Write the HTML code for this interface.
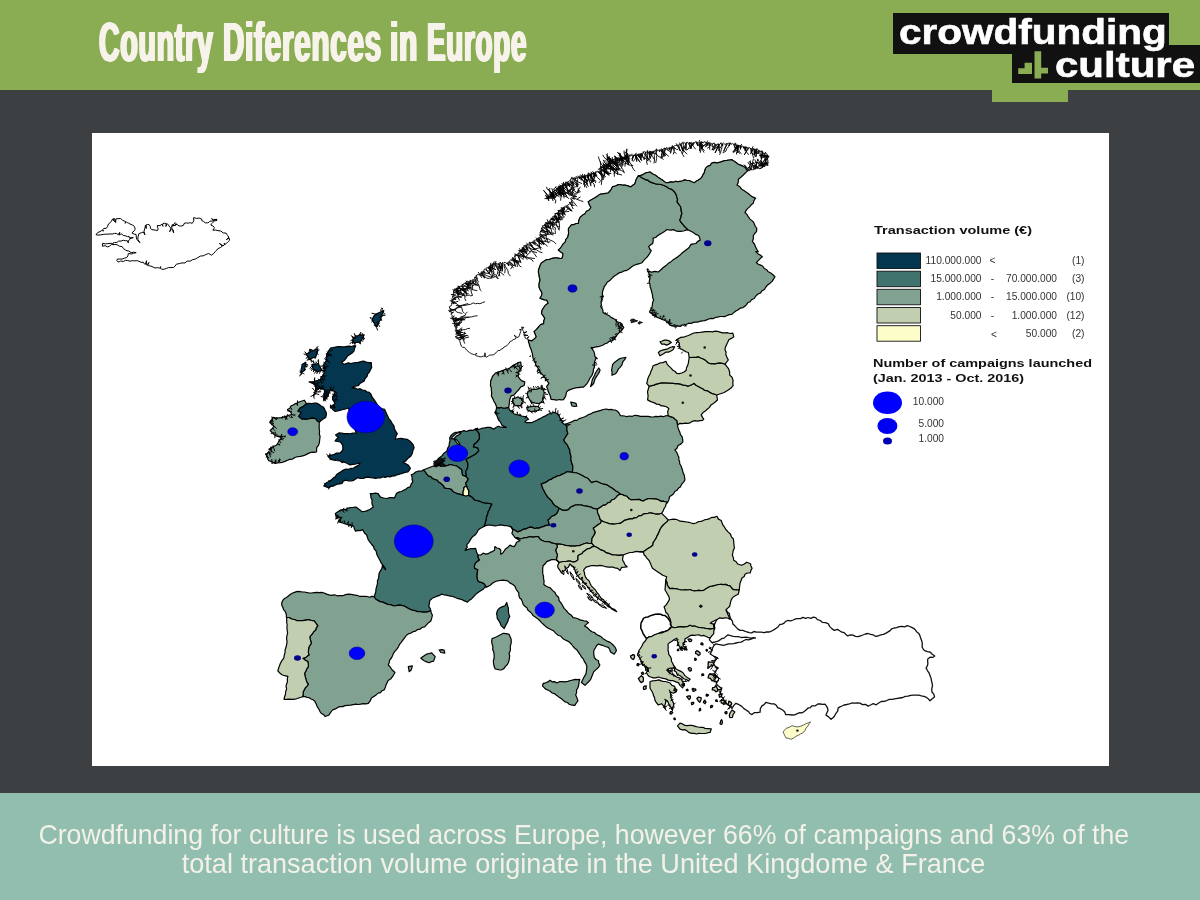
<!DOCTYPE html>
<html lang="en">
<head>
<meta charset="utf-8">
<title>Country Diferences in Europe</title>
<style>
html,body{margin:0;padding:0;}
body{width:1200px;height:900px;position:relative;overflow:hidden;background:#3c4043;font-family:"Liberation Sans",sans-serif;}
#hdr{position:absolute;left:0;top:0;width:1200px;height:90px;background:#8aad54;}
#title{position:absolute;left:0;top:-3px;height:90px;line-height:90px;white-space:nowrap;color:#f7f3ea;font-weight:bold;font-size:55px;}
.tw{position:absolute;top:0;letter-spacing:1.5px;transform-origin:0 50%;text-shadow:1px 0 0 #f7f3ea,-1px 0 0 #f7f3ea,2px 0 0 #f7f3ea,-2px 0 0 #f7f3ea;}
#ftr{position:absolute;left:0;top:793px;width:1200px;height:107px;background:#92beaf;}
.fl{position:absolute;left:0;width:1200px;text-align:center;color:#f3f1e8;font-size:28px;line-height:30px;white-space:nowrap;}
.fl span{display:inline-block;transform-origin:50% 50%;}
#mapbox{position:absolute;left:91.5px;top:133px;width:1017.5px;height:633px;background:#fff;}
#logo1{position:absolute;left:893px;top:13px;width:276px;height:41px;background:#111;}
#logo2{position:absolute;left:1012px;top:45px;width:188px;height:38px;background:#111;}
#tab{position:absolute;left:992px;top:88px;width:76px;height:14px;background:#8aad54;}
.lg{position:absolute;-webkit-text-stroke:0.6px #fff;color:#fff;font-weight:bold;white-space:nowrap;font-size:35px;line-height:40px;transform-origin:0 50%;}
</style>
</head>
<body>
<div id="hdr"></div>
<div id="title"><span class="tw" style="left:98.7px;transform:scaleX(0.518)">Country</span> <span class="tw" style="left:222.7px;transform:scaleX(0.5365)">Diferences</span> <span class="tw" style="left:389.5px;transform:scaleX(0.54)">in</span> <span class="tw" style="left:426.5px;transform:scaleX(0.505)">Europe</span></div>
<div id="tab"></div>
<div id="logo1"></div>
<div id="logo2"></div>
<div class="lg" id="lt1" style="left:898.5px;top:12px;transform:scaleX(1.157);">crowdfunding</div>
<div class="lg" id="lt2" style="left:1055px;top:45px;transform:scaleX(1.2);">culture</div>
<svg id="icon" width="40" height="34" viewBox="1014 48 40 34" style="position:absolute;left:1014px;top:48px;"><path d="M1034.5,51.2h6.7v16.6h6.8v5.7h-6.8v5h-6.7zM1018.2,68.3h6.4v-5.5h7.4v11.2h-13.8z" fill="#8aad54"/></svg>
<div id="mapbox"></div>
<svg id="map" width="1200" height="900" viewBox="0 0 1200 900" style="position:absolute;left:0;top:0;">
<path id="tr" d="M726,610 727.5,611.9 729.4,613.6 729.7,616.1 730.8,618.8 732.4,621.2 732.9,624.1 734.7,625.6 736.3,627.4 737.9,629.1 740.1,630.4 742.9,630.4 745.2,631.3 747.2,632 749.4,632.6 751.7,632.9 753.9,631.5 756.5,632.1 759,632.1 761.5,632.2 764,632.7 766.7,632 769.4,632 772,630.8 774.1,629.6 776.2,628.2 778.2,626.7 779.7,624.5 782.1,624.2 784.1,623.2 785.6,621.4 787.8,620.5 790.6,620.9 793.2,620 795.6,618.8 798,618.6 800.5,618.7 803,617.4 805.5,618.3 808,617.5 810.7,618.4 813.4,617.2 815.7,617.6 817.4,619.6 820.3,620.5 822.5,622.4 825.4,622.7 828.2,623.7 829.8,626.6 832.1,628.9 834.4,630.4 837.5,629.4 840,631 841.9,632.2 844.2,632.6 845.7,634.2 847.7,635.9 850.5,634.9 853.1,635.2 855.4,636.4 858.1,636.7 860.5,635.8 862.9,635 865.4,634 868,633.5 870.6,634.3 873.1,634.8 875.4,636.3 878,636 880.6,634.9 883.5,634.4 886.1,633.1 888.1,631.9 890.1,630.6 891.7,628.8 894.1,628 896.7,627.6 899.2,626.6 902,626.3 904.7,626.8 907.3,625.6 909.8,626.5 911.6,627.3 913.6,628.3 915.2,629.8 916.8,631.9 918.9,633.6 920,635.9 920.8,638.6 921.8,641.1 922.3,643.9 922.1,647 923.6,649.7 925.3,650.9 927.6,651.7 930,652 932.3,654.3 934.7,656 932.8,657.4 930.1,657.2 927.8,658.9 927.6,661.3 927.9,663.5 927.4,665.8 926.1,668.1 927.6,670.8 929.2,673.2 930.2,675.9 931.1,678.4 931.5,681 932.2,683.5 932.5,686 931.7,688.9 932,692 933.9,694.3 934.5,696.9 932.6,698.6 930,700.8 928,698.6 926.1,697.2 923.9,696.4 921.3,695.9 918.7,695.2 916,695.2 913.4,695.2 910.6,695.3 908,696.2 905.3,696.4 902.8,697.5 899.9,698 897.4,698.4 894.7,698.8 892.1,699.4 889.3,699.3 886.8,700.5 884,701.3 881.2,701.5 878.7,703 876.2,704.8 873.2,703.7 870.6,705 868,706.1 865.5,704.3 862.5,704.6 860,703.1 857.3,702.8 854.7,703.1 852,703 849.4,703.9 846.8,704.5 844,705 842,706 839.9,706.9 838.1,708.1 837.7,711.2 835.6,713.8 834.6,716 832.9,717.7 831,719.3 828.6,716.9 825.9,715 826.9,712.8 828,710.5 827.6,708.1 826.5,706.1 825,704.1 822.7,704.4 820.3,704 817.9,703.9 815.3,705.8 811.9,705.8 810.3,707.6 807.8,708.2 806.1,710 804.2,711.4 802.3,712.8 799.8,712.7 797.3,713.7 794.7,714.8 792,715 789,714.6 785.7,714.5 784.6,711.7 782.6,710 780.3,708.7 777.7,707.7 776.3,705.3 774.1,703.9 771.4,703.8 768.7,703.2 765.8,702.3 764.1,704.6 761.9,705.9 760.3,708.7 760.1,712.1 757.3,712.6 754.5,712.6 752,714.6 749.8,713.5 748.4,711.3 746.5,710.3 743.9,708.6 741.8,706.4 739.1,704.7 735.9,703.3 733.6,705.6 732,708.5 730.1,705.9 727.5,704.6 725.4,702.6 724,700.4 723,697.9 721,696.4 719.9,694 720.9,691 721.8,688.1 719.7,687.1 717.9,685.5 716.3,683.9 717,682 718.5,680.3 718.6,678.1 716.4,676 713.6,674.1 715.5,672.1 716.5,669.9 718.2,667.9 716,666.8 714.1,665.2 712.3,664 714.2,662.4 715.5,660.2 717.5,657.9 714.7,656.7 712.3,655.3 710.2,653.9 711.7,651.2 712.5,648.3 713.7,645.8 715.9,643.8 718.4,644.4 721,644.8 723.5,645.3 726,644.7 728.3,643.8 730.9,643.8 733.6,643.6 736,643 738.6,642.3 741.3,642.1 743.5,640.8 745.9,639.5 748.6,639.9 751,639.1 753.4,638.2 755.4,638 753.5,637.6 751,638.1 748.5,637.7 746,637.1 743.5,637.3 741.1,637.5 738.5,636.7 736,636.7 733.3,636.3 730.6,635.6 728,634.8 725.9,636.4 724.1,638.1 721.8,638.5 720,639.9 718,641.1 715,642 712.1,642.7 709.4,639.9 710.1,637.4 711.9,634.9 712.6,632.7 713.1,630.2 714.2,628.1 714.4,625 715.5,622.2 716.6,620 718.2,617.9 719.8,615.8 721.7,613.7 723.8,611.8 726,610Z" fill="#ffffff" stroke="#111" stroke-width="1.3" stroke-linejoin="round"/>
<path id="no" d="M528.3,340 531.7,340.9 534.1,339.1 536.2,336.8 535.2,334.1 534,331.6 536.5,329.4 538.5,327 540.5,324.6 543.7,323.6 543.8,320.7 544.8,318.3 543.2,315.9 541.5,313.3 542,310.3 543.6,307.7 545.5,305 548.1,303.3 546.7,300 544.3,299.9 542.2,299.1 539.9,298.3 541.3,296 542,293.3 541,291.1 539.8,289 539,286.7 539,284.4 539.4,282.2 540,280 539.2,276.7 539,274.5 538.4,272.3 538.5,270 539.3,267.7 540.1,265.3 541.3,263 543.9,261.3 546.5,259.6 549.5,259.4 552.1,258.3 555,257.9 557.2,257.9 559.5,258.4 561.8,258.5 562.7,255.9 562.9,253.5 560.6,251.9 558.2,250 560.1,248.4 561.5,246.5 563,244 565.3,241.9 565.8,239.3 567.6,237.4 568.3,235 568.6,232.8 568.4,230.5 568.5,228.4 570,226.7 571.5,224.7 573.9,224.6 576,223.5 578.4,223.3 578.8,220.2 580.1,217.3 582.6,215.1 584.9,213.7 586.4,211.3 589.1,210 590.9,207.5 589.4,204.7 588.2,201.7 590.8,200.1 593.5,198.6 595.7,197.2 597.9,195.8 600,194.1 602.8,193.9 605.5,193.4 608.1,193 610.8,190 612.5,186.7 615.4,186 618.2,184.6 620.5,184.5 622.8,185.2 625,185 627.9,185.9 630.8,186.9 632.7,185.2 634.7,184 635.5,181.7 636.2,179.4 638.3,175.8 640.7,175.4 643,174.6 645,173.2 647.4,172.5 650.1,172 652.8,174 655.6,175.3 658.1,177.3 660.9,179.1 663.4,180.7 665.8,182.6 668.3,182.6 670.8,181.9 673.4,182.2 675.5,181.3 677.8,181.6 680.1,181.3 682.3,181 684.4,179.9 686.7,180.4 689.3,180.5 691.7,181.8 694.2,182.7 696.1,181.3 698,180.2 699.9,179.1 701.8,177.2 702.9,174.8 704.2,172.8 704.8,170.5 705.6,168.1 707.5,166.4 710.1,165.4 711.6,163.2 714.4,162.4 717.3,162.8 720.1,162.2 722.3,161.4 724.5,160.6 726.8,160.4 729.3,160 731.6,159.6 733.8,161 736.1,162.5 738.3,164.2 740.6,165.1 742.9,166.1 745.1,167.4 747.5,170.8 748.5,170.6 744.3,164.8 749.5,170.4 750,170.3 750,167.8 751,170.1 751.5,169.9 750.3,167.7 752.5,169.7 753.5,169.7 754.5,169.3 756.8,162.2 755.5,169.1 756,168.9 749.4,161.6 756.9,168.6 757.4,168.5 755.7,165.8 758.4,168.2 759.5,168.4 761,168.2 761.7,167.2 757.2,162.6 762.6,166.8 763,166.7 760.6,160.4 763.9,166.3 765,166.4 765.7,165.7 765.2,157.8 766.6,165.3 768,165.4 767.6,163.7 767.7,162.9 758.5,165.6 767.8,161.9 768,161.1 767.9,160.2 765.7,159.1 768,159.2 767.4,158.4 768.1,157.6 761.4,155.7 768.2,156.6 768.5,156.2 759.4,155.6 768.1,155.4 767.2,155.1 766.6,153.5 764.8,154.1 764.3,153.3 760.6,156.6 763.4,152.8 763.2,152.7 762.3,155.9 762.3,152.2 762.2,150.8 760.9,151.3 756.3,154 760.1,150.8 759.8,150.6 754.1,154 759,150.1 758,150.4 757.4,149.5 753.9,153.3 756.4,149.3 756.1,149.2 755.9,152.5 755.1,149 754.7,148.9 754.6,155.1 753.7,148.7 753.3,148.6 751.5,152.9 752.4,148.4 751.2,149.2 750.1,147.9 749.2,147.6 744.2,155 748.3,147.4 747.2,148.1 746.5,147 745,149.5 745.5,146.8 745.2,146.7 745.3,150.3 744.2,146.5 743.8,146.4 743.7,148.4 742.8,146.2 742.5,146.1 740.5,147.8 741.5,145.8 741.1,145.8 740.4,149.5 740.2,145.5 739.8,145.4 732.8,151.9 738.8,145.2 738.5,145.1 738.6,147.8 737.5,144.9 737.1,144.8 737.8,153 736.2,144.5 735.6,143.2 734.5,144.1 735.8,150.4 733.5,143.9 732.6,143.7 731.1,144.2 730.5,143 728.7,146.1 729.5,143 728.7,143.2 727.8,143.2 723.6,151.3 726.8,143.3 726.1,144.2 724.7,144.2 723.3,142.9 722.5,143.7 722.8,145.9 721.5,143.8 720.6,143.3 719.9,143.9 715.1,152.9 718.9,144 718.5,144 719.5,147.5 717.5,144.1 717.2,144.2 713.4,150.4 716.2,144.2 715.9,144.1 712,150.1 714.9,143.9 714.2,142.8 712.5,144.5 711.8,143.4 709.7,146.3 710.8,143.2 710.1,142.7 709.2,143 705.3,147.2 708.2,142.8 707.8,142.7 708,145.7 706.8,142.6 705.8,143.4 704.8,141.4 703.2,143.2 701.9,141.7 701.1,142.1 699.6,151.1 700.1,142.2 699.3,142.3 698,142.2 697.1,142.4 697.8,146.1 696.1,142.5 695.3,141.9 694.5,142.6 692.7,145.6 693.5,142.6 693.1,142.7 690.1,149 692.1,142.7 691.3,142.6 690,142.9 689.1,142.9 690.9,147.9 688.1,143 687.2,141.9 686.5,143.1 685.9,150.2 685.5,143.2 684.6,142.8 683.3,143.4 681.8,142.8 681.2,143.9 682.8,151.2 680.3,144.2 679.5,144.6 678.7,144.7 680,150.9 677.7,145 676.9,145.3 675.6,145.5 674.3,145.9 673.2,146.8 672.3,146.6 670.5,153.3 671.3,146.9 671,147 671.5,149.8 670.1,147.3 669.7,147.4 669.5,150.1 668.8,147.7 668.2,148.6 666.5,147.5 665.9,148.5 662.6,157.5 664.9,148.7 664,148.2 663.3,149 661.1,158.5 662.4,149.2 662.1,149.2 663.7,154.6 661.1,149.4 660.8,149.5 665.7,155.7 659.8,149.7 659.5,149.8 659.8,151.9 658.5,150 657.8,150.4 656.2,149.4 655.3,151.3 654.3,150.8 653.6,153.3 653.4,151 653.1,151.1 651.2,156.5 652.1,151.3 651.8,151.3 650.4,154.7 650.8,151.5 650,151.9 649.2,151.9 650.6,158.5 648.2,152.1 647.2,151.2 646.2,152.8 644.7,151.7 643.4,151.9 642.8,153.1 640.5,159.6 641.8,153.3 641.5,153.4 643.9,158.7 640.5,153.6 640.2,153.6 641,155.9 639.2,153.8 638.9,153.9 641.7,160.8 637.9,154.1 637.6,154.1 640.5,158.1 636.7,154.3 636.4,154.4 636.8,161.6 635.4,154.6 635.1,154.6 640.2,162.3 634.1,154.8 633.8,154.9 632.2,160.8 632.8,155.1 632,155 630.8,155.9 629.4,155.4 628.3,156.5 627.4,156.2 628.4,158.4 626.4,156.4 625.4,155.5 624.9,156.7 623.8,159.5 623.9,156.9 623.3,157.9 622.3,157.2 622.8,161.2 621.3,157.4 621,157.4 619.2,161.7 620,157.6 619.5,158.9 617.9,157.4 617.2,158.1 617.7,160.1 616.2,158.5 615.5,159 613.9,159.1 613.6,160.2 614.7,162.5 612.7,160.7 612.4,160.9 615.2,164 611.5,161.4 610.8,162 609.9,163.1 608.6,163.7 607.6,163.8 614.9,169.7 606.7,164.3 606.2,165.2 604.2,164.5 604.1,167 602.7,167.4 600.7,166.8 600,168.3 601,167.1 602.4,167.1 603.5,166.4 604.5,166.5 603.4,163.8 605.4,166.1 606.5,166.7 607.3,165.1 608.5,164.5 609.4,164.5 609.1,156.4 610.3,164.1 611.1,163.8 611.8,163.4 607.6,157.4 612.8,163.1 613.1,162.9 608.5,157.1 614,162.6 614.5,161.7 615.5,161.9 615.1,156.3 616.5,161.6 617,160.6 618,160.9 616.5,158.3 618.9,160.5 619.2,160.4 614.2,156 620.1,160 620.5,159.9 619.8,152.9 621.4,159.5 621.7,159.4 619.8,154.1 622.6,159 622.9,158.9 617.5,152.2 623.8,158.5 624.2,157.2 625.4,157.9 626.9,148.9 626.3,157.5 626.6,157.4 627.5,153.3 627.5,157 627.7,156.4 626.7,156.5 626.3,157.6 628.8,164.9 625.3,158 624.9,159.2 623,158.3 622.5,159.2 622.9,161.3 621.6,159.7 621.3,159.8 622.5,162.5 620.3,160.2 619.4,160.1 617.8,160 617.5,161.4 618.5,170.3 616.6,161.9 616.3,162 618.2,166.2 615.3,162.4 615,163.8 613.7,163.1 617,165.9 612.9,163.5 611.7,163.1 610.7,164.1 610.3,165 614.4,169.1 609.4,165.5 608.5,165.6 608,167.3 606.5,167.5 605.7,168.7 604.5,168.2 607.9,174.5 603.6,168.7 603.2,169.6 602.2,169.5 609.2,175.3 601.3,170 601,170.2 601.6,174.5 600.2,170.7 599.9,170.8 604,176 599,171.3 598.8,171.5 600.7,174.1 597.8,171.9 596.8,171.4 596.2,172.3 593.2,181.8 595.2,172.6 594.9,172.7 596.9,175.6 594,172.9 593.6,173 595.2,176.4 592.7,173.3 591.9,173.7 591,173.8 591.8,178.6 590.1,174 589.8,174.1 590.6,176.4 588.8,174.4 588.5,174.5 588.7,180.2 587.5,174.8 587.2,174.9 588.8,178.5 586.2,175.1 585.8,175.2 583.9,184.6 584.9,175.4 584.5,175.5 584,178 583.5,175.8 583.2,175.9 587.7,181 582.2,176.1 581.3,176.1 580.2,177.4 579.1,176.9 580.4,179.4 578.2,177.1 577.3,177.4 576.2,178.7 574.7,178.3 573.3,178.2 571.5,178.1 570.6,179.2 570.2,180.2 572,182.5 569.3,180.7 568.7,181.4 567.8,181.6 569.8,187 566.9,182.1 566.6,182.3 572.5,186 565.8,182.8 565.4,183 568.2,191.5 564.6,183.6 564.2,183.8 566.6,186.6 563.4,184.3 563.2,185.7 561.9,185.2 563.3,190.7 561,185.7 560.7,185.9 560.8,193.6 559.8,186.4 559.5,186.6 561.7,190.4 558.6,187.1 558.3,187.3 559.9,195.2 557.5,187.8 557.1,188 563.7,194 556.3,188.6 556.1,188.9 557.4,192.6 555.3,189.7 554.4,190 554.1,190.9 556.5,193.6 553.3,191.7 553,192.6 552.1,192.9 552.8,197.2 551.3,193.7 551.1,193.9 552.6,195.8 550.3,194.7 550.4,196 549.1,196.7 548.1,196.9 548.8,200.9 547.3,197.7 546.5,197.9 552.2,194.5 546.9,198.7 547.5,198.1 545.4,195.3 548.5,197.8 548.9,197.8 543.5,190.2 549.9,197.5 550.2,197.4 551.3,192.5 551.2,197.2 551.5,197.1 551.4,194.7 552.5,196.8 553.4,196.9 554.2,196.4 548.2,189.4 555.2,196.2 556.1,196.2 556.9,195.8 555.7,193.7 557.9,195.5 558.2,195.4 560.3,187.4 559.2,195.2 559.5,195.1 559.1,186.2 560.5,194.8 561.5,195.2 562.2,194.4 562.8,192.2 563.2,194.2 563.8,193 564.9,193.8 564.4,190.1 565.9,193.5 566.8,192.2 567.6,193.8 570.3,189.5 568.5,194.2 568.9,194.4 574.8,188.9 569.8,194.9 571,194.7 571.5,195.8 573.3,191.9 572.4,196.2 573.1,196.2 576.8,196.6 573.5,197.2 572.9,197.6 574.6,199.1 572.4,198.5 571.6,199.2 572.1,201.1 570.9,201.5 573.1,203.2 570.4,202.4 570.3,202.9 572.9,205.5 569.7,203.7 569,204.3 567.9,205.2 566.9,205.2 572.2,211.2 566,205.7 565.7,205.9 571.2,211 564.8,206.4 564.5,206.6 564.4,210.2 563.6,207.1 563.3,207.3 562.9,213.1 562.5,207.8 562.1,208 565.3,215.2 561.3,208.6 561.1,208.9 563.1,214.5 560.4,209.6 560.4,210.8 559.2,210.8 561.6,212.4 558.5,211.5 558.7,212.9 557.3,212.7 563,218.4 556.6,213.4 555.5,213.6 555.4,214.6 558.7,220 554.6,215.4 554.4,215.6 556.9,217.3 553.7,216.3 552.7,216.5 552.5,217.5 553.9,219 551.8,218.2 551.5,218.5 555.2,220.7 550.8,219.2 550.7,220.3 549.6,220.4 552.4,224.3 548.9,221.1 548.7,221.3 550,224.4 547.9,222.1 547.7,222.3 548.7,227.2 547,223 546.1,223.3 545.8,224.2 547.8,233.6 545.1,224.9 544.9,225.1 551.3,228.7 544.2,225.8 542.7,225.6 542.5,227.2 541.5,228.2 541.5,229.2 543.5,230.2 541.3,230.2 541.5,231.2 539.9,232.3 540.3,233.8 540.4,234.8 545.2,239.2 540.2,235.8 540.3,236.3 544,244.5 539.7,237.1 539.3,237.2 539.5,247.3 538.5,237.7 538.2,237.9 543.4,244.6 537.4,238.4 537.2,239.7 536,239.4 541.8,244.5 535.1,239.9 534.3,240.2 533.8,240.8 535.6,243.8 532.9,241.4 532.6,241.6 534.5,243.7 531.8,242.1 531.4,243 529.4,242.3 529.1,243.8 535.4,249.4 528.2,244.2 527.4,244.9 526.4,245.1 527.8,250 525.5,245.6 524.6,245.9 523.7,246.4 524.4,248.6 522.9,247 522.8,247.3 526.7,254.2 522.2,248.1 522,248.4 527.4,250.1 521.3,249.2 521.1,249.4 523,251.3 520.5,250.2 520.3,250.5 527.1,252.3 519.7,251.2 519.6,252.2 518.7,252.5 523.2,255.7 518,253.3 517.8,253.6 520.8,262.7 517.2,254.4 517.1,255.4 515.1,255.4 514.5,256.8 513.8,257.4 515.2,266 513,258.1 512.6,258.4 519.2,262.4 511.9,259 511.5,259.3 518.6,263.4 510.8,259.9 510,260.5 509.3,261.1 513.4,265 508.5,261.8 508.2,262.1 508.5,265.8 507.4,262.7 506.9,263.7 505.4,262.5 504,262.4 503.2,263.3 502.1,271.4 502.2,263.3 501.3,263.5 500,262.4 499.2,263.3 500.8,270.9 498.2,263.3 497.3,264.5 496,263 495.1,263.3 498.5,270.5 494.1,263.3 493.8,263.1 491.8,270.6 492.8,263.5 492.3,264.3 491.5,264.7 493.2,266.2 490.7,265.3 490.4,265.5 491.3,271.9 489.6,266.1 489.3,266.3 495.9,269.6 488.5,266.9 488.2,267.2 489.8,269.4 487.4,267.8 486.3,267.8 486,268.8 489.8,274 485.3,269.4 484.1,269.3 483.9,270.5 484.9,273.2 483.2,271.1 483.1,272.3 481.8,272.2 482.5,274.3 481.1,272.8 480.8,273 484.8,278.1 480,273.6 480,275 477.9,274.6 476.5,275.2 476.7,276.6 477.4,279.3 475.9,277.4 474.5,277.2 474.7,278.6 476.4,281.7 473.9,279.4 473.3,280 472.4,280.4 474.4,284.1 471.5,280.7 470.1,280.1 469.4,282.3 467.3,281.1 466.8,282.6 469.4,289.3 465.9,282.9 465.4,283.1 468.4,285.7 464.6,283.5 463.6,283.7 462.9,285.1 461.9,285.2 464.9,290.2 461,285.7 460.6,286.8 458.8,286.4 458.3,287.3 466.2,292.1 457.5,287.8 457.1,288 458.2,296.3 456.3,288.6 455.9,289.1 462.5,294 455.2,289.8 454,290.1 453.6,291.8 453.6,293.1 453,294.5 453.4,295.9 452.6,297.2 452.7,298.1 456.1,299.5 452.6,299.1 451.5,299.8 452.2,300.9 454.3,303.5 451.9,301.9 451.8,302.3 454.1,302.2 451.5,303.2 451.7,304.3 451.3,305.7 449.4,306.6 449.7,308.3 451,309.5 449.5,311.3 451.8,312.3 451,313.4 453.6,311.8 451.2,314.4 452.2,315.1 452,316.6 452,317.6 454.3,315.8 452.4,318.5 452.5,318.9 456.5,317.5 452.9,319.8 453,320.2 457.3,320.2 453.4,321.1 453.5,321.5 461.9,318.9 453.9,322.4 455,323.1 454.4,324.2 459.8,325.1 454.6,325.1 454.5,326.1 455,326.8 462.1,321.6 455.3,327.8 455.4,328.2 457.3,327.5 455.6,329.1 456.4,329.9 455.9,330.8 461.6,332.5 456,331.8 456.1,332.2 460.8,333.8 456.2,333.2 455.8,334.1 456.5,334.9 463.4,334.4 456.6,335.9 455.8,337 456.7,338.5 458.7,338.9 458.9,340 462.9,337.3 459.5,340.9 460,341.7 460.5,343.9 461.3,346.1 462.6,347.3 464.6,347.4 465.6,348.8 466.7,350.1 468.1,351.4 469.7,352.6 471.3,353.7 473.2,354.3 474.5,354.7 476.9,353.3 475.4,355 476.4,356 478.3,356.2 480,356.9 481.7,356.7 483.4,356.1 484.5,356.7 485,352.8 485.5,356.7 486.8,357.1 488.3,356 489.8,355 491.7,355 493.5,354.7 495.3,353.6 496.5,351.9 498.1,350.6 500.2,350.4 501.3,349 503,348.5 504,347 505.6,346.3 507.1,345.5 508.2,344.2 509.3,343 510.1,341.4 511.8,340.9 513.2,339.6 515.2,339.1 516.2,338 514.3,335.2 517.1,337.5 518.6,337 519.5,335.2 520,333.4 520.7,331.7 521.1,330.5 519.5,329.6 521.3,329.5 521.8,328.4 522,326.7 522.3,327.9 523.8,327.3 522.6,328.9 522.7,330.1 523.6,331.6 523.5,332.9 526.9,331.5 523.7,333.9 523.8,334.5 528,335.5 524,335.5 524.8,336.3 525.3,338.2 526.5,338.6 528.8,336.5 527.3,339.2Z" fill="#ffffff" stroke="#000" stroke-width="0.9" stroke-linejoin="round"/>
<path id="no_fj" d="M748.9,171.3 748.9,168.2 750.3,164.3 750.3,160.5M750.3,164.3 754.3,163.2M750.5,170.2 751.1,168.1 752.5,164.1 752.6,162.1 753.5,158.6M753.6,169.2 753.7,166.8 754.7,164.8M753.7,166.8 752.1,164.7M754.8,169 753.3,167.9 751.9,166.3 748.9,163.9 747.9,162M751.9,166.3 747.9,167.8M756.1,167.9 754.8,164.3 753.3,162.1M757.9,168.2 756.6,165.6 756.2,162.8 754.8,159.4M756.2,162.8 758.3,159.1M759.1,167.7 757.5,166.5 755.6,165.6M762.3,167.3 764.3,165 764.6,162.2 766.9,159.8 766.7,158.8 769.3,155.9M764.9,167 761.8,163.9 759.3,162M768.1,165.2 766,163.6 762.4,164.5 761,163.9 758,162.4 755.4,162.5M761,163.9 757.1,158.7M768.9,162.6 766.2,163.9 764.7,165.8 761.7,168 759.4,168.7M764.7,165.8 761.5,165.6M767.9,161.8 764.7,163.5 762.5,165 759.8,166 757.2,168M767.8,158.8 765.8,156.6 762.6,155.4 760.5,154.3 757.8,153.1M769.2,156.4 766.4,159.1 762.6,162.4M768.2,155.8 766.1,156.4 763.1,157.6 760.2,157.9M765.9,152 764.4,154.1 765.2,158.4 763.8,161 762.3,164 762.5,166.7M763.8,161 760.8,163.6M762.7,151.2 762.1,155.1 761.6,157.9 760.9,162.1M761.1,151.1 761,154.9 761.6,158.9M757.1,148 756.3,151.2 756.1,155 754.8,157.3M753.7,148.4 754.6,151.5 756.4,154.6 756.4,156.7M753.1,146.3 751.3,150 750.6,154.1M750.8,148 750.9,150.3 751.9,152.9 752.9,155.7 753.6,158.1M751.9,152.9 756.1,156.5M746.4,146.6 746,148.8 745,151.3M746,148.8 744.6,149.9M745.1,147.3 746,150.4 746.9,152.4 748.7,154.8M741.9,144 739,147.4 737,150 732.9,152.7M738.9,145.1 737.8,147 737.4,150.3 736.4,153 736.8,154.6M737.4,150.3 739.7,153.7M737.3,145.1 736,147.5 734.6,150.7M736,147.5 737.9,150.2M735,142.9 735.9,145.6 738.4,148.9 739.4,151.9 741.5,153.8M730.3,142.5 729.4,146 726.7,148.6 726,151.1 722.6,152.9M723,144.1 720.9,146.8 719.6,148.7 718.1,150.9M719.6,148.7 719.8,152.9M721.8,143.3 722,147 721.3,149.7 720.6,152.7 719.5,154.8M721.4,142.5 718.5,145.7 715.2,148.6M718.5,145.7 718.4,148.6M718.3,143.4 718.6,146.5 719.4,150.5M712.2,143.3 712.3,145.4 712.7,147.3M712.3,145.4 711.3,146.1M709.2,142.5 709.7,146.5 709.8,149.8M709.7,146.5 707.2,148.4M708.8,141.9 706.5,144.5 703,145.9 701,149.4M703,145.9 698.9,144.7M707.7,140.6 706,144 703.4,145.7 701.6,148.9M703.4,145.7 699.1,146.9M703.3,142 700.8,143.8 698.4,145.5M700.8,143.8 698.2,143.7M701.9,141.7 701.2,143.9 701.3,147.6 700.8,150.1 700.3,152.8M701.3,147.6 704,152.6M699.4,140 700.6,143.6 702.5,148M700.6,143.6 703.2,145M695.9,141.1 697.2,143.8 699.6,145.7 701.7,147.7 704.6,150.7M694.1,142.5 692.8,144.4 690.3,145.9 688.1,149.2 686.3,150M691,143.2 691.2,146 691.7,148.9M688.9,142.3 691.7,144.3 693.8,146.9 695.7,149.3M686.6,142.4 684.8,146.1 683.9,148.8 683.7,150.1 682.4,153.9M683,141.6 683.4,145.5 683.9,148.9M679.3,142.6 681.4,146.2 682.3,148.1 684,151 687.1,154.3M682.3,148.1 686.6,147.6M676.3,143.4 677.6,146.3 678.8,148.1 681.2,151.4 682.5,154.3 684.2,157M674.2,146.9 674.2,149.4 674,151.8 673.2,154.5M674,151.8 676.5,153.5M672.3,145.2 673.1,148.1 674.4,151.1M673.1,148.1 671.5,149.6M671.5,147 674.2,147.9 676.5,149.3 678.1,149.7M666.9,148.5 668.4,150.3 670,151.7M664,147.9 666.5,149.2 668.6,150.7M661.4,148.5 663.2,150.9 665.3,153.1 667.3,155.3 668.9,156.4M665.3,153.1 664.3,156.7M656.4,148.6 656.2,152 654.3,155.4 654.5,159.9 654,163.4M650.2,151.1 649.9,152.7 649.4,157 648.9,159.8 646.4,161.3 647.4,164.8M648.3,151.8 650.8,154.1 652.5,156.4 654.3,159.6M645.6,151.9 645.1,156 644.1,159.7M643,151.7 644.7,154.6 647,157.3 649.4,159.9M647,157.3 646.8,160.5M641.9,153.8 640.3,156 639.2,157.7M640.3,156 637.8,156.7M636.4,152.8 634.1,155.9 631.5,159.1M628.8,154.1 628.9,158.2 628.6,161.9M627.5,155.1 626.4,159.1 625.6,162.6 624.9,166.7M626.1,157 627.8,158.6 629.1,161.3M627.8,158.6 630.3,159M621.6,157.6 623.7,158.4 626.3,160 627.4,161.9 630.4,162.3M619.7,158 619.5,160.3 619.7,163.3M617.7,158.7 616.8,159.9 615.4,161.6M616.8,159.9 614.6,160.5M614.1,160.4 615.2,162.2 616.2,164.1M615.2,162.2 617.5,162.7M612.5,159.2 612.5,161.9 613,165.1 613,168.8 613.1,171M613,165.1 617.1,169.1M611.2,159.2 611.3,163.1 610.3,164.9 610.8,168.9 610.4,172.3M610,162.9 610.7,164.9 611.7,166.5M608.9,161.2 608.1,164.8 606.7,167.6 606.9,170.9M607,164.5 606.5,167.5 606.7,170M606.5,167.5 609.3,169.5M604.1,164.5 608.2,166.2 611.2,167.1 614,167.7M611.2,167.1 614.5,171.5M600.4,166.2 604,167.7 607.3,168.2 611,168.5 613.9,169.3M597.9,169.3 601.9,168 605.2,166.3M601.8,170.1 600.7,165.9 600.5,161.4M603.8,169.2 603.1,166.3 600.4,162.7 598.9,158.4 598.3,156.5M604.8,168.9 604.3,166.1 603,162.5M605.4,166.8 606.7,164.1 607.3,160.3 608.8,156.7M607.3,160.3 611.4,158.3M606.8,165 604.8,162.7 603.1,159.9M604.8,162.7 605.1,159.9M608.4,165.2 609,162.1 610,158.6M609,162.1 611.4,160.3M610.1,164.9 609,162.3 607.5,159.8 607.1,155.5 606,154.2M612.4,164.7 609,161.8 607.3,160.2 604,157.2 602.7,154.8M607.3,160.2 607.3,153.4M612.8,163.5 612.2,160.5 612.4,157.1M612.2,160.5 614.8,158.9M619.3,161.2 620.7,158.8 622,156.2M620.7,158.8 622.1,158.6M622.5,158.9 620.6,157.3 618.9,155.1M625.5,158.2 624.6,155 624.1,153.4 624.1,150.5M624.1,153.4 626.3,151.8M622.3,159 622.1,163.1 622,165.7M622.1,163.1 620.1,164M616.6,159.3 618,161.6 620.1,165.6 622.8,169.4 624,172.3M616.2,161.6 615.9,164.2 616.9,167.6 617.2,171.6 617.6,174.9M616.9,167.6 614,173.9M612.5,162.5 614.5,164.4 616.7,166.6M607.6,164.5 610,167 613,168.2 617,171.1M607.1,167.5 608.9,168.7 611.9,169.9 614.1,171.3M605.4,166.3 604.7,169.3 604.3,172 604.1,176.4 604,178.2M603.7,168.1 604.3,171.3 604.4,173.6M604.3,171.3 605.4,172.4M598.9,169.7 602.7,170.5 605.8,171.8 608.5,171.7M598.8,172.3 601.2,175.3 603,176.4 603.5,179.8M603,176.4 601.6,179.5M596.1,171.1 594.3,174 593.3,177M594.3,174 591.5,173.9M592.5,171.3 594.5,173.6 597.5,177.5 600.2,180.1M590.6,172 593.4,173.9 596.3,175.5M591.1,173.4 591,177.3 590.7,180.6M589.1,173.1 590.7,176.3 592.6,178.9 593.4,182.1M592.6,178.9 591,183.6M588.4,172.4 587.8,175.1 588.1,178.4 587.4,182.4M583.7,175.6 585.3,177.7 586.6,180.3 586.5,184.4 588.7,186.5M582.6,173.9 581.9,177 581.3,180.6M581.9,177 579.7,177.8M581.6,177 582.9,177.8 586,179 587.5,181.1M586,179 587.3,182.2M578,175.7 580.6,178.4 582.7,180.2 584,181.9 586.4,182.9 587.8,185.4M577.8,176.7 577.7,179.8 577.2,182.6 576.5,185.8M574.6,177.4 575.6,180 577.2,183.4 577.7,187.3M573,177.8 574.1,180.5 576.2,183.5 578.1,185.6M576.2,183.5 579.2,184.4M571.7,176.9 572.2,180 572.3,183.5 573.2,186.2M572.3,183.5 574.5,185.4M566.7,182.7 568,184 569.7,185.8M565,183.3 567.5,184.7 570.5,187.2M567.5,184.7 569.7,184.3M563.4,181.9 563.9,185.9 563.7,189.4 564.2,192.6M561.9,183 563.1,186.2 563.3,189.4 563.2,192.4 563.8,195.4 564.1,198.3M563.2,192.4 567.2,196.2M560.8,186 560.1,188.1 558.9,191.1M556.5,188.1 557.9,190.6 560.6,192.9 563,194.4 563.9,196.7M560.6,192.9 560.8,196.8M553.5,192.4 553.2,194 555.4,197.9 554.4,198.8 555.9,200.9 555.2,203.4M552.4,193.4 553,195.6 553.2,198.2M553,195.6 551.4,197.5M550.1,195 551.9,195.9 554.2,196.8M551.9,195.9 551.9,197.4M546.3,196.7 549.1,197.7 552.2,198.2 555.1,199.1M552.2,198.2 553.1,201.1M544.5,198.6 547.9,198.5 552.7,197.8 555.6,197.4M548.2,198.3 548.9,194.9 549.9,193.5 549.7,189.6 549.8,188M549.9,193.5 555.1,190.4M553.7,198.1 552.4,195.1 551.2,193.6 550,191 547.1,189 546.5,186.8M554.4,196.4 553.6,194.1 552.4,190.3 551.8,188.2M552.4,190.3 556.4,186.6M555.3,197.2 556.8,194.3 558.8,191.5 560.7,188.5M558.8,191.5 563.5,192M559.5,196.8 556.5,195.1 553.1,193M562.3,196.4 559.6,194.2 556.9,191.7 554.3,189.8M562.1,194.1 562.9,191.6 562,188.6 562.7,186.3 563.5,184.1M562,188.6 558.5,186.1M568.5,194.8 568,192.3 567.8,189 566.1,187.7 565.3,183.7 565.9,181.6M569.8,196.1 570.6,192.3 570.6,189.8 572.1,185.3 571.6,182.8M570.6,189.8 573.7,187.3M574,196 576.3,194.5 578.6,191.7 579.5,189.9M578.6,191.7 578.1,188.3M570.9,197.9 574.5,198.2 576.9,199.3 580.5,200.7 583.3,201.5M576.9,199.3 580.5,196.8M570.1,198.2 572.2,200.6 574.1,202.8 577,206.4M569.1,201.9 571.2,204.9 573.2,209.1M571.2,204.9 574.6,205.4M561,207 562.8,209.6 564.1,212.3M558.7,210.2 561,211.2 564,212.5M558,210 559.2,214 559.1,216.6 560.8,220.6M559.1,216.6 562.2,218.8M557.4,213.2 558.7,216.8 559.6,219.4M554.3,213.9 557.1,213.6 561.4,214 564.1,213.8M561.4,214 564.7,217M554,216.3 556.6,219.5 558.1,222.3M556.6,219.5 559.7,218.6M553.3,217.4 555.2,217.8 557.3,218.7 560.9,219.2 562.7,219.6M550.6,218.2 554.1,218.8 557,219.8 560.1,219.8M550.2,219.5 553.5,219.9 556.7,218.5 560,218.2M556.7,218.5 558.9,222.7M545.1,222.3 548.5,223.5 551.6,224.2 554.9,225M551.6,224.2 553.8,221.3M544.6,224 548.6,223.3 551.8,223.9 555,223.5M544.4,224.1 546.1,227.1 547.1,229.4 549.7,231.3 551,234.1M541.2,228.4 543.9,227.8 547.5,227.8 550.2,227.7M540.9,229.9 543.9,231.2 546.6,231.7 550.8,232.7 553.7,233M540.2,231.4 544,232.6 548.6,233.6M538.9,235.1 542.8,234.8 546.5,234.8M540,236.7 543.1,235.9 546.5,235.4M535.6,237.5 538.3,239.8 540.8,241.2 545,243.7 547.7,246.5M532,242.7 534.3,244.3 536.9,245.4 539.2,246.2 541.3,247.5 542,248.3M539.2,246.2 541,249.9M529,242.3 531.2,244.3 532.8,246.2M531.2,244.3 531.1,245.8M526.1,244.6 526.1,248.7 524.4,251.3 523.7,255.1M524.4,251.3 527.6,254.2M523.7,245 525.9,247.5 527.6,249.4 530.4,252.3M522.2,247.2 522.8,250.5 522.8,252.6 523.6,255.8 523.3,258.7M519.3,248.3 522.1,252.5 524.4,256.7M519.5,251.4 522,252.6 523.7,254.5 524.8,256.9 527.4,259.7M514.7,253.8 517.4,255.3 520.2,257 523.4,259.4M515.1,253.9 515.2,257.6 515.6,260.3 516.9,263.7 517.7,266.8M515.6,260.3 520.6,261.6M512,257.1 513.6,258.7 515.6,261.1 517.8,262.8 519.7,266.1 521.4,266.9M506.5,263.2 508.9,264.8 512.1,265.1 514.4,265.7 516.3,266.4M505,264.1 504.3,266.5 505.2,269.7 504.7,273.2M501.6,263.7 501,267.1 500.1,270.4 499,272.7 499.8,276.3M500.2,262.1 499.9,264.7 498.4,267.3 498,270.8 497.3,274.4M498.6,263.8 500.3,266 501.1,268.2 502.6,269.6M495.1,263.5 496.9,265.4 498.4,267.4 500.7,269M498.4,267.4 502.5,266.4M494.4,261.3 493,264.7 490.7,267.6 488.6,270.9M490.9,262.8 490.1,266 489.9,269.3 489.4,273.2M487.8,267 489.9,269.3 490.8,271.6 492.7,274.5M481.4,271.4 483.2,275 485.4,277.9M480.5,273 482.9,273.4 486.8,275.7 490.3,276.9 492.8,276.4M478.1,272 480,274.9 481.8,277.8M480,274.9 482.1,275.6M475.8,278.4 476.1,280.6 475.7,283.4 476,285.8M472.5,279.1 474.3,280.9 476.4,283.1M471.3,281.5 470.6,282.9 470.3,284.8M467.8,281.8 470,283.1 473.5,283.5 476.7,285.2 478.8,285.8M458.7,285.9 460.1,288.5 463.5,290.8 466.1,292 467,295.3M458,285.7 458.3,289.1 458,292.9 458.9,295.3M454.7,288.2 456.7,291.4 458.9,294.4M456.7,291.4 459.2,291.8M452.5,289.6 455.6,290.9 458.5,292.3M455.6,290.9 457.6,290.1M453.6,293.1 455.3,292.5 457.1,291.8M450.9,294.5 453.7,295.1 457.5,296.6 461.7,297.5M457.5,296.6 459.7,300.5M452.2,296.5 454.8,297.1 456.6,297.9M454.8,297.1 455.4,298.6M451.3,300.9 453.8,299.4 455.7,297.3M449.8,300.5 452.8,301.9 456.1,303.7M452.8,301.9 453.7,304.2M452.1,303.1 455.4,302.1 458.3,301.3M449.7,308.1 452.4,309.8 455.1,310 456.7,312.1 458.5,312.5 462.4,313.5M448.3,310.5 451.4,309.6 455.4,309.5 457.5,307.9 461.8,306.6M450.6,311.7 453.6,309.5 456,308.7 458.6,306.4M450.1,318.2 454.1,318.4 457,318.9 461.3,319.6 464.9,319.9M452.5,320 454.9,319.8 459.2,319 461.3,320.5 465.5,318.9M452.2,323.4 455.7,323.4 459.1,323.1M455.7,323.4 456.4,322M453.9,325.4 456.7,323.5 458.5,322.9 460.7,320.6 462.7,319.1M456,330 459.3,330.3 462.4,329.2M454.7,330.4 456.4,332 459.5,335.8 462.4,336.6 464.7,339.7M459.5,335.8 463.3,335.1M456.4,333.2 458.2,331.8 459.8,329.3 462.2,327.7M455,336.5 458.3,337.7 462.5,337.2 464.7,338.1 469.1,337M462.5,337.2 464.7,343.6M458,338.3 460,337.7 463.6,336.6 466.9,335.4 468.3,335.9M463.6,336.6 464.9,331.7M459.5,339.7 461.8,338.4 464.7,336.4M607.1,164.7 608.7,166.2 611.9,167.9 614.2,169.1 617.1,169.2 621.4,170.5 624,171.7 624.3,173.2M606.3,166.3 609.8,168.4 612.3,169.3 614.1,170.8 615.5,173 618.1,174 622.1,175.1M614.1,170.8 614.4,176.7M604.9,168.3 606.3,170.5 607.5,172.8 609.5,174.5M607.5,172.8 611.4,173.7M600.5,168.7 601.8,171.5 601,174.7 602.3,178.9 601.8,180.8 601.3,184.9M602.3,178.9 598.9,182.9M597.7,171 600.3,173.2 601.8,175.2 603.9,176.8M593.8,172.1 593.2,175.6 592.8,177.3 592,180.2 590.6,183.1 590.8,185.4M591.1,172.7 591.2,176.2 592.6,178.3 592.6,182.8 594.1,184 594.6,187.3M588.5,173.3 589.7,175.9 592,179.6 593.7,181.2M592,179.6 596.4,181.2M584.6,174 585.1,176.7 585,181.7 584.2,183.7 584.7,187.4M585,181.7 588,184M580,174.7 583,177.2 586.2,176.8 588.2,177.9 590.4,181 594.2,180.3 595.9,183.1M588.2,177.9 591.1,186.1M579.2,175.8 581.5,178.1 582.7,179.7 584.4,182.8 585.8,185.9 586.9,187.9M576.4,176 575.3,179.8 573.5,182.2 573.6,184.8 571.4,189.3M573.5,182.2 577.7,186.8M572.8,178.1 576.4,180.6 578.5,182.1 582,183.6M559.2,184.9 562.5,186.4 563.7,188.2 566.5,190.2 569.4,191.5M558,186.2 560,189.4 562.9,190.4 562.6,194 565.6,194.4 566.6,196.7 568.9,198.7M562.6,194 567.8,192.8M555,186.8 557,188.6 560.4,191 561.8,193.1 563.3,195.3 567.1,197.3M561.8,193.1 560.5,200.6M556.6,190.3 559.3,189.6 561.3,186.6 565,185.3 567.7,184.8 569.9,182.7 573,182.6M566.1,192.8 568.1,190.8 571.5,189.2 573.4,187.2 577.1,186.6M571.5,189.2 575.9,191.7M571.5,195.7 571.8,192.9 573.1,190.2 573.8,187.2M573.2,196.9 574.5,193.6 576.7,192.7 578,190.5 580.4,186.8M576.7,192.7 580.7,191.7M563.5,207.1 563.8,210 563.5,212.2 562.3,215.2 563.8,217.7M558.4,210.2 558.8,213.3 558.2,216.3 558.6,218.2 558.2,220 559.2,222.8 559.6,227.5 558.7,229.9M555,213.6 557.1,213.4 561.5,213.8 564.6,211.9 566.5,211.7 569.2,211.4M564.6,211.9 567.8,209.1M555.2,215 555.3,218.1 556.9,220 555.9,222.9 556.7,224.9 557.7,227.3 559.4,230.4M551.7,218 553.4,220.6 552.1,222.5 553.5,226.9 555.5,227.8 555.1,230.5 555.5,233.8M550.5,221 551.3,223.2 552.6,225.4 552.6,227.3 553.4,229.8M547.1,219.3 548.1,222.1 550.4,224.8 550.5,227.7 551.9,232M546.6,223.8 548.4,223.2 552.3,222 554.9,223 557.6,222.2 559.7,221.9M554.9,223 558.1,219.3M544.2,225 547.6,225.2 549.3,226.5 551.9,225.2 556.2,224.7 556.9,226.4 559.5,227.2M543,226.5 545,229 547.7,229.5 549.1,231.6 551.2,234.1 553.3,235.2M541.3,228.1 543.8,230.1 544.9,232.6 546,234.7 546.2,237.2 547.3,240.2 548.4,243.2M546,234.7 554.7,233.6M540.1,231.1 543.9,231.1 546.9,231.4 549.6,230.9M540.9,234.1 543.4,236.1 545.7,238.4 548.3,239 550.1,240.1 553.5,241.5 556.2,244M536.2,239.5 539.5,240.8 540.8,241.3 544.2,241.3 548.3,242 550.3,241.9M544.2,241.3 548,238.8M534.1,240.7 535.7,242.9 537.9,245.1 539.4,247.3M529.2,241.9 530.5,244.1 532.1,246.8 534.6,250.3M526.6,242.8 527.8,245.1 530,248 531.5,251 534.2,253.5 536.7,257.2M531.5,251 537,252.8M525.3,245.6 529,248.2 530.2,248.5 532.8,249.4 536.2,249.7 539.8,252 542.4,252.6M532.8,249.4 540.5,247.6M518.3,250.5 522,250.6 525.3,251.3 528,250.9M516.6,255.2 519.1,255.4 521.3,256.3 525.9,256.6 528.5,257.7 530.4,257.9 534.9,258.6M525.9,256.6 532.1,250M509.2,262.3 510.2,264.1 512.4,266.1 513.4,268.2M512.4,266.1 510.7,269.2M504.5,263.8 505.1,266.1 507.1,269.2 508.1,271 508.3,273.5 510.5,276.2M502.6,262.1 502.2,264.5 501.1,268.6 499.6,271.5 499.4,273.8 498.2,276.4M499.6,271.5 504.2,275.3M496.1,260.9 495,264.2 494.6,266.9 492.9,269.2 494,272.4 492.4,275.9 491.2,278.5M489.6,267.5 491,269.9 492.7,272 494.7,274.8 496.3,274.8 497.1,277.5 497.5,278.9M482.6,271.7 484.4,273 489.1,273.4 490.1,274.8 492.7,275.4 496,276.9 498.7,278.7M476.3,275.2 475.8,277.1 478.4,281.9 477.4,283 478.9,285.3 480.2,290 481.4,291.1M473.2,280.6 473.5,284.2 472.6,284.8 472.6,288.9 470.9,290.7 472.5,295.5 470,295.9M471.1,280.5 469.4,283.4 468.9,285.2 468.7,287.3 467.4,290 466.2,291.8M468.7,287.3 463,291.3M468.8,282.3 468.8,285.2 467,287.3 465.6,289 464.2,293.2 462.9,294 462.5,295.9M465.6,289 456.7,291.2M466,280.7 468.1,284.4 470.3,286.5 471.2,290.3M464.7,282.8 466.8,283.4 470.6,284 472.3,284.6M470.6,284 474.3,281.2M461.7,284.2 465.1,285.7 468.2,287.2 471.4,287.5 472.4,289.7 477.3,290.7M461.4,286.3 464.2,286.4 466.9,287.2 470.2,288.3M459,287.5 460.8,289 460.4,291.3 462.1,293.9 465,296.2 464.8,298.6 466,301M456.1,288.2 458.3,288.5 461.3,288.3 464.3,289.7 467.6,289.8 468.6,291.4M453.9,290.2 456.8,288.7 459.8,288.5 461.9,288.8 465.1,288.6 467.6,288.3 470.1,286.6M461.9,288.8 466.9,294M453.1,291.6 456.4,292.3 458,294.1 461.6,295M458,294.1 461.5,291.8M451.7,294.5 454.7,294.6 456.9,293.4 460.6,293.7 462.8,294.6 465.7,293.8 468.5,293.5M451.6,298.9 453.4,300.6 456,303.7 456.6,303.6 458.8,306.2 461.8,307.6 462.6,311.4 464.5,313.4M458.8,306.2 468.2,303.5M449,311.9 451.9,310.3 454.7,309.7 458,306.9 460.1,306.5M451.6,319 454.9,319 459.2,318.7 462.1,318M454.1,323.5 455.1,321.5 457.1,319.3 459.8,318.1 460.8,317 465.2,315.3 465.8,313.5 467.5,311.8M460.8,317 469.4,317.2M456,327.3 457.2,324.2 459.4,322.9 459.7,321.4 462.1,319.4 463,317.2M455.6,329.9 458.3,330.8 460.1,331.5 463.7,333 466.2,333.7M456.3,332.6 458.9,334.4 460.8,336.5 461.8,338 463.9,340.4M460.8,336.5 467.1,335.5M657.2,149.8 656.4,152.4 656.7,155.7 656.6,158.5 655.7,163M649.5,151.2 652.2,152.8 655.3,153.6 657.2,154.9 659.1,157 660.8,157 663.5,159.8M647.6,150.2 647.4,154.6 647.2,157.5 647.1,161.2M647.2,157.5 643.7,159.4M645.3,152.9 646.8,154.8 647.5,158 649.9,160.4 650.5,162.2M638.9,153.7 636.2,156.6 635,159.2 633.1,161.7M631.9,153.6 629.3,156.3 627.5,160 626.9,161.5 623.5,164.8M627.5,160 628.2,165M626.4,157 628.9,159.8 629.1,162.2 631.6,164.4 631.6,165.8 633.5,169.4 635.3,171.2M624,156.6 624,159.1 623.6,161.7 622.4,165.4 621.3,168.3M621.5,155.7 621.5,158.3 621.2,161.5 620.6,164.5M618.5,158 621.7,159.6 624.2,161.1 626.3,163.5 628.6,164.9 633.2,165.6M611.8,160.1 614.7,162.3 615.8,164.9 618.7,167.4 620.3,169.4M615.8,164.9 622.3,165.1M609.2,164.3 610.6,166.7 611.9,167 615.5,169 617.3,171.8 618.6,173.3M615.5,169 620.4,168.8M604.1,165.6 604,167.8 605.4,171.9 604.3,175.5 605.9,177M605.4,171.9 609.8,173.4M455.8,305.8 458.1,305.2 460.4,305.9 462.7,305.4 465.1,305.4 467.8,304.7 470.6,304.3 473.3,302.9 475.5,303.7 477.8,303.4 479.9,303.7 482.4,302.7 485,301.7M456.7,320 459.5,319.5 462.2,318.8 464.9,317.9 467.2,317.5 469.4,317.1 471.7,316.9 474.6,316 477.5,315.8M456.7,333.3 459,332.4 460.9,330.7 463.2,329.7 465.5,329.5 467.7,328.6 470,328.3M454.2,298.3 456.4,297.5 458.7,296.8 461,296.4 463.2,295.4 465.6,295.9 467.8,295.3 470,295M465,283.3 467.1,284.6 469.5,284.8 471.7,286.1 473.9,285.1 476,284.2 478.3,284.2M481.7,273.3 483.5,274.8 485.1,276.6 486.7,278.3 489.6,278.3 492.3,277.7 495,276.7M516.7,255 518.9,255.5 521.2,255.9 523.3,256.5 525.5,257.5 527.7,258 529.8,258.6 531.9,259.7 533.3,261.7M546.7,198.3 548.9,197.7 550.5,196 552.6,195 554.7,194.2 556.6,193.1 558.7,192 560.8,190.8 562.8,189.4 564.7,188 566.8,186.9 568.6,184.6 571.4,183.8 573.3,181.7" fill="none" stroke="#000" stroke-width="0.9" stroke-linejoin="round"/>
<path id="uk" d="M330.5,348 333,347.6 335.5,347 338,346.7 340.3,346.7 342.5,346.9 344.8,346.8 347,346.3 349.2,346.1 351.5,346.5 353.7,345.7 355.7,345.9 354.6,348.3 354,351.1 352.1,353.1 349.9,354.5 347.6,356 346,358.4 344.2,360.6 341.8,362.2 343.8,364.3 346.3,363.6 348.4,362.8 350.8,363.5 353,363 355.6,362.5 358.3,362.3 360.9,361.7 363.5,361 366,362.1 368.5,362.6 371.3,362.7 371.5,365.2 371.7,367.5 370.5,369.7 369.4,372 367.6,374 367,376.6 365.1,378.5 364.2,381 362.1,382.3 359.9,383.4 358.4,385.6 355,386.1 352,387.8 354.9,387.8 357.4,389.3 360.1,388.7 362.4,390.1 364.9,390.3 366.7,391.8 369.3,392.4 371,394.2 372.2,397.2 374.3,399.8 378.5,406.5 380.3,407.9 382.4,408.7 384.6,409.4 385.7,411.7 386.7,414 387.8,416.3 388.9,418.6 390.7,420.9 392.1,423.4 393.9,425.8 394.5,428.7 395.6,431.2 397.3,433.7 395.8,436.4 395.5,439.5 398.4,438.5 401,438.3 404,438.9 407.1,439.3 409.4,440.8 411.4,442.6 413.2,444.9 414.1,447.8 412.8,450.7 412.2,453.8 410.4,456.6 407.7,458.6 405.8,460.9 403.1,462.3 405.9,463.8 408.5,465.2 410.4,468.3 409.2,470.4 407.7,472 404.9,472.4 402.2,473.5 399.5,474.2 397,474.8 394.6,475.9 392,476.1 389.8,476.9 387.5,476.4 385.3,477.4 382.9,476.8 380.5,478 378,478 375.5,478.3 373,477.8 370.5,477.7 368,477.1 365.6,477.4 363.5,478.5 360.5,478.5 357.5,477.7 355.6,479 353.7,480.3 351.5,480.8 348.4,481 345.6,480.2 343.3,481.1 342,483.4 339.6,483.9 337.3,484.2 335.1,485.1 333.2,486.2 330.8,486.3 329,488 326.4,487 323.8,486 326.5,482.7 329.4,481.3 331.8,479.5 333.4,477.9 335.4,476.8 336.4,474.7 338.8,473 341.3,471.5 343.4,470 345.9,469 348.6,469.3 351.1,468.4 353.6,468 355.9,466.6 358.6,465.4 360,463.2 358.2,463.4 356,464 353,464.4 349.9,464.9 347,463.3 344,462.2 340.9,461.6 338.1,460 335.4,460.4 332.9,459.8 330.4,459.1 327.9,456 330.9,455.4 333.6,454.7 336.4,453.1 339.6,453.2 341.4,451.7 342.8,449.8 342.8,445.6 340.7,442.1 338,441.5 335,441 336.4,439.2 338.3,437.6 335.6,435 338.8,432.9 341.5,433.2 344,433.7 347,433.6 350,433.8 353,433.2 356.4,433.2 355.4,430.5 354.2,428.4 353.8,426.1 352.9,423.9 352.9,421.4 351.9,419.3 351.3,417 351,414.7 350.5,412.3 349.1,410.3 348.5,408 345.9,408.8 343.2,409.5 340.5,410.1 337.8,410.8 334.9,411.4 333.1,409.8 331.6,408.1 330.5,405 330.5,408 332.4,405.4 335.2,403.6 333.9,401.5 332.7,399.6 332.5,397.6 333.8,394.8 335.2,391.8 332.8,390.8 330.6,390.2 329.2,391.9 328.5,394 327.9,396.2 326,398.7 323.9,400.4 323.9,398.1 323.9,395.4 324.5,392.7 324.5,390 322.3,389 319.9,388.1 317.6,389.8 315.1,391.2 314.3,393.6 313.5,395.8 315.1,393 315.7,389.9 315.7,387 315.8,383.8 312.3,383.3 309.1,381.9 312.3,381.8 315.1,381.3 317.7,380.5 320,379.8 321.3,377.8 322.4,376 323.5,374 324.6,372 324.1,368.9 322.8,366 323.9,364 325.3,362.2 326.5,360.1 326.4,357 326.8,354ZM383.8,310.5 383.1,312.8 381.4,314.8 381.1,317.3 380.5,319.7 378.8,322 377.8,324.7 376.2,326.7 374.9,324.4 373.4,321.9 372.1,319.5 373.5,316.7 375.5,314.2ZM364.2,334.8 363,337.4 361.6,339.8 359.8,342 357.2,342.4 354.6,342.5 352.5,343.3 352.9,340.5 353.7,337.4 356.5,336.6 359,335.2ZM317.8,348.8 317.5,351.7 316.5,354.3 315.8,357.2 313.1,357.6 311,359 308.9,359.8 307.9,356.9 306.5,354 309.2,352.5 311.8,351ZM305.8,362.2 305.6,365 304.9,367.8 304.4,370.6 302.3,372 301.3,374 301,371.7 301.1,369.3 301.8,366.9 302,364.5ZM311.8,364.5 314,364.1 316.4,364 318.4,363.2 319.3,365.7 320.7,368.1 322.2,370.5 319.9,370.9 317.8,371.8 315.4,370.7 313.2,369ZM306.5,403.5 309.1,403.4 311.8,403.5 314.4,403.2 316.9,403.2 318.9,404.2 320.7,405.7 322.8,406.7 324.3,408.5 325.3,410.7 326.3,412.6 326.3,415.1 325.6,417.5 322,419.7 319.2,422.2 317.1,421 315.7,418.8 313.3,418.2 311,418.3 308.7,418.8 306.4,419.5 304.3,419.2 302,419.2 298.5,416.3 301.3,412.5 297.8,411.1 299.8,408 303.3,406.3Z" fill="#05364f" stroke="#000" stroke-width="1.2" stroke-linejoin="round"/>
<path id="ie" d="M304.2,400.2 306.5,403.5 303.3,406.3 299.8,408 297.8,411.1 301.3,412.5 298.5,416.3 302,419.2 304.3,419.2 306.4,419.5 308.7,418.8 311,418.3 313.3,418.2 315.7,418.8 317.1,421 319.2,422.2 319.2,429 319.6,431.5 319.3,434 320.1,436.5 319.7,439.5 319.4,442.6 318.5,445.3 316.7,447.7 316.5,451.8 314,452.3 311.7,452.2 309.5,452.9 306.6,454.4 303.6,455.7 300.6,456.3 297.5,456.7 294.9,457.5 292.6,459.1 289.8,459.4 287.4,460.2 285,461.4 282.6,462.3 280,462.6 277.5,462.8 275,463.5 273.1,462.3 271.1,461.4 268.8,460.7 267.6,458.7 267.4,456.3 265.6,454.4 267.9,453.3 269.9,452.3 272,451.5 269.5,449.1 271.4,447.8 273.8,446.3 276.4,445.3 277.9,443.2 279.2,440.8 280.9,438.7 282.7,436.4 280,436.3 277.5,436.5 275.2,435.4 273.6,434 271.9,432.4 270.2,430.5 272.4,428.5 273.9,426 271.3,424 270,421.5 271.8,419.8 273.3,417.4 276,418.1 278.5,417.9 281,417.6 284,416.9 287,416.1 289.5,415 291.7,414.6 291.1,412.6 289.1,411.1 287.5,409.5 289.8,408.3 290.9,406.1 293,405 294.9,403.9 297,403 299,402Z" fill="#81a290" stroke="#000" stroke-width="1.2" stroke-linejoin="round"/>
<path id="fr" d="M374.2,596.7 375,594.2 375.8,591.7 376,588.8 376.8,586.1 377.5,583.3 377.4,580.7 378.6,578.3 378.8,575.8 379.1,573.3 380.4,570.9 381.9,568.5 382.4,565.4 384,568.1 385.7,569.7 384.7,567.6 383.2,565.4 381.4,563.4 380.4,561.2 379.2,559 378,556.8 377,554.8 376.5,552.6 375.8,550.5 374.1,548.8 373.6,546.5 371.7,544.5 370,542.2 368.3,540 366.7,535 364.3,532.7 362.7,529.6 360.3,530.6 358,530.4 355.6,531.2 354.4,528.9 353.7,526.3 351.3,525.6 349.2,524.8 346.9,524.5 344.8,523.8 342.7,523 340.5,522.4 338.6,521.6 339.9,519.5 341.5,517.6 339.1,517.4 336.4,518.7 335.9,515.8 335.4,513.5 337.5,512 339.9,510.5 342.6,509.5 345.7,509.6 348.3,508.1 350.7,507.5 353.3,507.3 355.9,507 358,508.6 360,509.9 361.7,511.6 364.5,511.5 367.2,510.6 369.8,509.5 371.6,508.3 373.3,506.7 372.2,504.6 371.9,502.3 372.1,499.9 370.9,497.8 370.8,495.5 370.3,493.6 372.8,493.6 375.5,493.1 378.1,493.6 380.5,497.1 383.6,498 386.7,498.5 389.2,497.7 391.7,497.7 394.5,497.9 395.6,495.5 396.6,493.2 398.8,492.1 401.3,491.5 403.5,490.4 405.7,489.2 407.7,487.6 410.2,486.9 411.1,484.1 412.8,481.8 412,479.5 412.2,477.2 411.2,474.8 413.7,473.7 415.6,472 418.1,471.2 420.9,471.2 423.3,470 425.3,471.7 426.6,473.9 428.3,475.8 430.7,476.5 432.6,478.5 434.9,479.4 437.2,480 438.6,481.9 440.6,483.1 442.1,484.5 443.7,486.1 444.5,487.9 446.7,488.4 449.2,488.5 451.5,489.4 453.3,491.7 455.5,492.7 457.7,493.6 460,494.1 463.3,495.3 468.7,495.3 470.9,496.4 472.9,497.8 474.4,499.8 476.8,500.5 479.6,501.2 482.3,502.3 485.1,503 487.3,503.2 489.5,503.5 492,504.1 490.5,506.7 489.6,509.3 488.2,511.7 487.6,514.5 486.5,517.2 486.2,520.1 485.3,523.2 484.2,526.3 482.2,527.5 480.1,528.5 478.2,529.9 477,532.5 475.3,534.8 472.9,536.4 470.9,538.9 469.3,541.8 466.8,544.7 467.2,547.4 465,550.3 470.8,548.7 473.3,548.6 475.6,548.4 476.2,550.4 476.8,552.8 478,555 478.1,557.6 479.5,560.1 477.4,561.5 475.5,563.1 474.5,565.7 474.5,568.1 477.9,569.7 477.3,572.2 477.2,574.5 477.1,576.7 477.4,579.2 478.4,581.5 481.3,582.3 484,583.6 485.8,585.8 484.4,587.8 482.8,589.5 480.7,590.7 478,592.5 475.5,594.6 473.5,596.9 471.5,598.9 469.4,600.2 467.5,602.1 464.4,600.9 461.6,599.5 459.4,598.9 457.2,598.3 455,597.5 452.9,596.5 450.6,596.1 448.3,595.7 446.1,595.1 443.9,594.8 441.7,594.1 439.6,595.4 437.3,596.1 435.2,597 432.2,598.3 429.8,600.7 429.3,603.7 428.9,606.7 430.2,608.7 430.8,610.8 426.8,612.1 424.5,612.1 422.2,612.1 420,611.5 417.4,611.6 415,610.7 412.5,610.1 409.5,609.1 406.7,607.5 404.3,606.1 401.6,605.3 398.9,605.1 396.1,605.6 393.3,605.8 390.6,604.6 387.7,604.4 385.1,603.1 382.6,602.1 380,601.6 377.8,600.4 375.6,599ZM506.7,602.5 507.5,605.4 508.4,608.3 508.4,611.1 508.8,613.9 509.7,616.8 508.4,618.9 507.9,621.3 506.8,623.4 505.5,625.8 504.2,628.6 501.1,625.6 500.2,623.1 498.8,620.7 497.2,618.4 497.1,616.1 496.6,613.9 497,611.8 498.1,609.4 500.1,607.7 502.5,606.6 505,605.8Z" fill="#40726e" stroke="#000" stroke-width="1.2" stroke-linejoin="round"/>
<path id="es" d="M289.2,617.5 286.5,617.7 286.3,614.5 285.3,611.6 283.6,609.6 282.8,607.2 281.7,605 281.8,602.5 282.9,600.2 284.4,598.6 286.5,597.4 288.4,596 290.4,594.2 292.7,593 295.1,592.1 297.5,591.4 300,591.7 302.5,592 304.8,592 307.1,592.7 309.4,593 311.7,593 314.2,592.6 316.7,592.4 319.2,592.7 321.7,592.4 324.2,593 326.6,594.1 329.1,594.9 331.6,595.3 334.5,594.8 337.2,595.8 340,595.7 342.9,595.7 345.5,594.6 348.3,594.2 351.2,594.4 354,594.9 356.8,595.3 359.4,596.3 362.2,596.3 365,596.3 367.3,596.5 369.6,597.2 371.9,596.4 374.2,596.7 375.6,599 377.8,600.4 380,601.6 382.6,602.1 385.1,603.1 387.7,604.4 390.6,604.6 393.3,605.8 396.1,605.6 398.9,605.1 401.6,605.3 404.3,606.1 406.7,607.5 409.5,609.1 412.5,610.1 415,610.7 417.4,611.6 420,611.5 422.2,612.1 424.5,612.1 426.8,612.1 430.8,610.8 431.3,613 432.4,615 431.8,617.9 430.9,620.9 428.5,622.7 426.5,624.8 424.7,626.8 422,627.5 420,629.2 417.6,629.6 415.6,631.1 413.3,631.6 411.2,633 408.8,633.7 406.7,635 404.9,637.4 403.1,639.8 401.4,642.1 399.7,644.2 398.4,646.8 396.9,649.1 395,651.1 393.4,653.4 392.5,655.7 391.5,658 389.8,659.9 389.2,662.5 388.3,665 390.4,667.2 392,669.7 395,672.5 392.5,676.7 390.6,679 388.1,680.6 387.1,682.7 386.1,684.7 385.5,686.9 384.1,689.9 382,690.7 380.5,692.6 378.1,693.1 376.1,694.9 373.8,696.5 371.5,698.1 370.2,700.9 368.3,703.4 365.8,703.9 363.3,703.7 360.8,704.1 358.3,704.5 355.8,704.2 353.3,704.6 350.6,705.1 347.8,705.3 345,705.6 342.8,706.6 340.5,706.7 338.2,707.2 335.4,708.9 332.5,710 330.5,712.6 328.6,715.3 325,716.5 323.7,714.7 321.4,713.5 319.9,711.3 318.8,709 317.3,706.8 316.1,703.8 314.7,701.1 313.1,699.7 310.9,699 309.2,697.6 306.9,697.4 304.8,696.5 302.5,696.7 303.3,694.5 303.1,692.1 304.2,690 305.3,687.9 307,686.2 308.3,684.2 306.7,681.9 305.9,679.2 305.1,676.2 304.6,673.3 305.8,671.2 306.8,668.8 308.4,666.7 308.3,664.1 307.8,661.5 305.3,660.2 302.9,658.3 305.5,657.6 307.3,656.1 309,654.9 308.3,652.6 308.5,650 308.8,647.6 309.8,645.5 311.3,643.4 310.8,641.1 310.1,638.9 309.9,636.7 312.1,634.2 313.9,631.5 315.7,630 316.3,627.7 317.8,625.8 315.9,623.2 314.1,620.9 311.4,620.5 308.7,619.7 305.8,620.2 302.9,620.7 300,620.6 297.1,620.7 294.4,619.5 291.6,619ZM420.8,658.3 422.7,656.8 424.6,655.4 426.7,654.1 429.2,653.5 431.6,652.9 433.3,654.6 435.2,656.7 434.4,658.9 433.6,661.1 431.3,661.7 429.2,662.8 426.6,661.9 424.2,660.8ZM439.2,650 441.7,649.6 444.1,650.1 444.8,653.1 440.8,652.5ZM408.3,666.7 412.4,665.9 411.3,669.8 409.2,671.7Z" fill="#81a290" stroke="#000" stroke-width="1.2" stroke-linejoin="round"/>
<path id="pt" d="M289.2,617.5 291.6,619 294.4,619.5 297.1,620.7 300,620.6 302.9,620.7 305.8,620.2 308.7,619.7 311.4,620.5 314.1,620.9 315.9,623.2 317.8,625.8 316.3,627.7 315.7,630 313.9,631.5 312.1,634.2 309.9,636.7 310.1,638.9 310.8,641.1 311.3,643.4 309.8,645.5 308.8,647.6 308.5,650 308.3,652.6 309,654.9 307.3,656.1 305.5,657.6 302.9,658.3 305.3,660.2 307.8,661.5 308.3,664.1 308.4,666.7 306.8,668.8 305.8,671.2 304.6,673.3 305.1,676.2 305.9,679.2 306.7,681.9 308.3,684.2 307,686.2 305.3,687.9 304.2,690 303.1,692.1 303.3,694.5 302.5,696.7 295,699.2 292.2,699.4 289.5,699.2 286.7,699.4 284,699.3 284.6,696.7 285.5,694.2 285.6,691.7 286.6,688.9 286,686.1 286.9,683.3 287.5,681.2 287.3,678.9 287.9,676.4 284.6,675.7 281.9,674.7 279.8,673 277.8,670.9 278.6,668.2 279.5,665.8 280.3,663.5 281.9,660.6 283.8,658.1 284.2,655.5 285,652.8 285.1,650 286,647.3 286.6,644.6 287.1,641.8 286.6,638.9 286.8,636.1 287.6,633.3 287.2,630.5 286.9,627.8 287.2,625 286.7,622.5 286.7,620 286.7,617.5Z" fill="#c1cfb0" stroke="#000" stroke-width="1.2" stroke-linejoin="round"/>
<path id="nl" d="M477.5,428.3 475.2,428.9 473.1,430.4 470.7,430.1 468.5,430.6 466.4,431.5 464.1,430.6 461.9,431.4 459.8,431.6 457.6,432.4 455.2,432.4 453.3,433.6 450.9,435.4 449.7,438.1 450,440.6 449.3,443.2 449.1,445.9 447.7,448.1 447.1,450.7 445.4,452.3 443.5,453.5 442.3,455.6 440.5,456.9 438.7,458.3 437.5,460.1 436.1,461.9 433.9,463.1 434.2,465.8 436.9,466.2 439.6,465.4 442.3,465.8 445,466.2 447.8,465.4 450.3,464.5 454.2,465.5 456.5,465.9 458.3,467.3 461.7,469.7 461.9,472.6 462.5,475.1 466.3,476.7 466.2,474 465.6,471.3 467,469.5 467.7,467.3 467.9,463.4 466.1,459.7 468,458.1 470.4,457.1 474.1,455 476.4,453.4 478.8,450.8 477.8,447.9 473.5,446.9 474.1,444.5 477.4,441.7 479.4,438.8 479.5,436.4 479.3,434.1 478.2,432.1 476.5,430.1Z" fill="#40726e" stroke="#000" stroke-width="1.2" stroke-linejoin="round"/>
<path id="be" d="M463.3,495.3 460,494.1 457.7,493.6 455.5,492.7 453.3,491.7 451.5,489.4 449.2,488.5 446.7,488.4 444.5,487.9 443.7,486.1 442.1,484.5 440.6,483.1 438.6,481.9 437.2,480 434.9,479.4 432.6,478.5 430.7,476.5 428.3,475.8 426.6,473.9 425.3,471.7 423.3,470 427.5,468.3 434.2,465.8 436.9,466.2 439.6,465.4 442.3,465.8 445,466.2 447.8,465.4 450.3,464.5 454.2,465.5 456.5,465.9 458.3,467.3 461.7,469.7 461.9,472.6 462.5,475.1 466.3,476.7 468.3,479.2 467.1,481.4 465.5,483.3 466.7,485.8 464,487.4 463.8,489.8 463,492 463.3,495.3Z" fill="#81a290" stroke="#000" stroke-width="1.2" stroke-linejoin="round"/>
<path id="lu" d="M466.7,485.8 464,487.4 463.8,489.8 463,492 463.3,495.3 465.8,496 468.7,495.3 468.8,493 469,490.8 467.5,488.5Z" fill="#fdfdc9" stroke="#000" stroke-width="1.2" stroke-linejoin="round"/>
<path id="de" d="M496.7,407.3 498.9,407.8 501.1,407.3 503.3,408.2 506,407.9 508.7,407.3 509.6,410.3 512.3,411.2 513.8,413.7 516.6,414.6 519.4,415.1 521.5,416 523.7,416.4 526.1,416.6 528.6,419.3 526.5,420.3 524.9,422 526.8,422.7 529.1,422.6 531.3,422.7 534.1,421.5 536.8,420.3 539,419.1 541.2,418 543.3,416.8 546.1,415.6 548.7,414 552.7,412.7 555.2,412.5 557.2,413.5 559,415.1 559.6,417.4 560.9,419.2 562.1,421.2 563.1,423.5 565.3,424.7 567.3,426 565.3,424.2 567.2,426.5 566.8,428.9 567.1,431.1 567.9,433.4 566.5,435.6 565.2,437.7 563.8,440 565.2,442.6 567.2,444.7 568.5,447.4 569.8,450.1 569.9,452.3 570.5,454.5 571.1,456.7 570.7,459 571.3,461.1 571.8,463.3 572.8,465.7 572.8,468.3 572.5,472.5 569.6,471.8 566.7,471.8 564.7,473.3 562.4,474.1 560.2,475.3 557.6,475.8 555.5,477.1 553.1,477.9 551.1,479.4 548.7,480.2 546.8,481.9 543.8,483.1 541.1,484.3 542.1,486.3 542.9,488.7 544.1,490.9 545.3,493.2 546.7,495.4 548.2,497.6 550.1,499.3 551.9,501.1 553.1,503.5 554.9,505.4 557.2,506.7 559.2,508.3 558.1,510.9 556.9,513.5 554.4,515.4 551.5,516.5 550.1,518.5 548,519.9 548.8,522.5 549.5,525.2 546.1,525.4 543.3,526.6 541.1,527.2 539,528.2 536.7,528.2 534.4,528.5 532.3,527.4 530,527.1 527.7,528 525.6,529.1 523.3,529.2 520.6,530.9 517.5,531.9 515.4,530.5 513.1,529.5 510.8,526.7 506.7,525.7 504.4,525.7 502.2,525.1 500,524.9 497.8,525.5 495.6,525.8 493.3,525.7 490.5,525 487.5,525.1 484.2,526.3 485.3,523.2 486.2,520.1 486.5,517.2 487.6,514.5 488.2,511.7 489.6,509.3 490.5,506.7 492,504.1 489.5,503.5 487.3,503.2 485.1,503 482.3,502.3 479.6,501.2 476.8,500.5 474.4,499.8 472.9,497.8 470.9,496.4 468.7,495.3 468.8,493 469,490.8 467.5,488.5 466.7,485.8 465.5,483.3 467.1,481.4 468.3,479.2 466.3,476.7 466.2,474 465.6,471.3 467,469.5 467.7,467.3 467.9,463.4 466.1,459.7 468,458.1 470.4,457.1 474.1,455 476.4,453.4 478.8,450.8 477.8,447.9 473.5,446.9 474.1,444.5 477.4,441.7 479.4,438.8 479.5,436.4 479.3,434.1 478.2,432.1 476.5,430.1 477.5,428.3 475.3,430 479.4,429.2 482,428.2 484.7,427.9 487.3,427.4 490,427.4 494,429.1 496.2,427.2 498.6,426.3 501.3,427.2 503.6,427.4 506.3,427.4 503.9,426.2 501.8,424.9 500.3,421.8 498.6,420 497.7,417.8 496.8,415.2 494.9,412.7 496.1,410Z" fill="#40726e" stroke="#000" stroke-width="1.2" stroke-linejoin="round"/>
<path id="dk" d="M520.7,362 521,364.7 521.5,367.3 520.3,369.8 518.8,372 518.4,374.4 518.3,376.6 519.6,378.7 521.4,380.6 524.8,381.9 524.2,385.5 520.8,386.9 518.6,389.9 516,392.7 513.9,395.2 511.1,395.9 509.6,399.9 509.3,404 508.7,407.3 506,407.9 503.3,408.2 501.1,407.3 498.9,407.8 496.7,407.3 495.3,403.3 493.9,401.5 493.2,399.4 491.4,396 491.7,393 491.3,390 491.3,387.8 490.4,385.6 490.6,383.3 490.6,380.9 491.7,378.9 492.4,376.5 494,374.7 495.7,372.9 498.1,372.3 500.3,371.4 502.5,370.6 504.6,369.7 507.4,369.2 510,367.9 512,366.3 514,364.8 516.1,363.9 518,362.7ZM512.7,398.7 515.5,398.1 518,396.8 520.1,398.4 523.1,399.1 522.9,403.1 519.9,405.7 517.6,405.7 515.1,405.6 512.7,402.7ZM528,391.3 530.3,390.2 532.7,389.2 535.4,389.4 538,388.9 540.3,388 542.8,387.8 543.6,390.4 544.2,392.8 543.9,394.9 544.2,397.4 543,399.3 542.1,401.4 539.2,403.7 535.3,403.1 531.2,402.2 529,398.5 527.3,394.7ZM526.7,407.3 529.7,406.8 532.7,406.3 535.4,406.3 538.1,406.5 540.3,408.8 538.9,410.1 536.7,410.8 534,411.1 531.2,411.8 527.3,410ZM570.7,402 573.3,402.7 576,403.3 576.8,406.1 574.4,406.4 572,406Z" fill="#81a290" stroke="#000" stroke-width="1.2" stroke-linejoin="round"/>
<path id="pl" d="M565.3,424.2 569.3,422.7 571.8,421.9 574.1,420.4 576.9,420.4 579.2,418.6 582,417.7 584.8,416.8 586.7,415.7 588.6,414.5 590.8,413.9 592.7,412.7 595.4,411.9 598.1,411.1 600.8,410.3 603.3,409.5 606,409 608.7,409.6 610.9,409.4 613.1,409.8 615.3,410 617.4,411.2 619,413 620.5,415.7 624.7,416 626.7,416.7 629.4,416 632.3,416.3 635,415.3 637.8,415.6 640.5,416.3 643.3,416.4 645.8,416.4 648.3,416.4 650.8,416.8 653.3,417 655.8,416.3 658.3,416.7 660.8,416.2 663.3,416.7 665.7,415.8 668.3,415.5 670.7,416.9 673.3,417.5 675,419.1 677,420.7 677.5,425 678,427.6 678.8,430.1 679.9,432.3 680.4,434.6 682.1,436.6 682.6,439.1 682.9,441.8 680.8,444.1 678,445.5 677,448.2 674.9,450 676.8,452.4 677.9,455.2 678.9,457.2 678.8,459.5 679.6,461.6 679.8,464 681.1,466 681.8,468.3 682.6,470.5 683.1,472.9 684.2,475 685,480 683.4,482.3 681.6,484.4 680.3,487 678.3,488.3 677,490.3 674.8,491.5 673.6,493.7 671.8,495.2 669.7,496.5 668.9,499.7 667.5,502.5 663.4,501.2 660.9,501.3 658.9,499.9 656.7,499.2 654.5,498.8 652.2,498.8 650,498.5 647.7,498.9 645.5,499.8 643.3,501.1 641.1,500.4 639,499.4 636.7,499.7 633.7,499.6 630.9,499.8 628.7,498.4 626.9,496.3 624.6,495.6 622.4,494.6 620,494.2 618.1,492.2 615.7,491 613.8,489.4 611.9,488 609.3,486.5 606.8,484.8 603.7,484.2 600.8,483.3 598.6,482.2 596.7,481.3 594.2,481.6 591.6,482.7 589.7,480.7 588.1,478.5 585.3,477.3 582.6,475.7 579.8,474.2 576.8,473 572.5,472.5 572.8,468.3 572.8,465.7 571.8,463.3 571.3,461.1 570.7,459 571.1,456.7 570.5,454.5 569.9,452.3 569.8,450.1 568.5,447.4 567.2,444.7 565.2,442.6 563.8,440 565.2,437.7 566.5,435.6 567.9,433.4 567.1,431.1 566.8,428.9 567.2,426.5Z" fill="#81a290" stroke="#000" stroke-width="1.2" stroke-linejoin="round"/>
<path id="cz" d="M559.2,508.3 557.2,506.7 554.9,505.4 553.1,503.5 551.9,501.1 550.1,499.3 548.2,497.6 546.7,495.4 545.3,493.2 544.1,490.9 542.9,488.7 542.1,486.3 541.1,484.3 543.8,483.1 546.8,481.9 548.7,480.2 551.1,479.4 553.1,477.9 555.5,477.1 557.6,475.8 560.2,475.3 562.4,474.1 564.7,473.3 566.7,471.8 569.6,471.8 572.5,472.5 576.8,473 579.8,474.2 582.6,475.7 585.3,477.3 588.1,478.5 589.7,480.7 591.6,482.7 594.2,481.6 596.7,481.3 598.6,482.2 600.8,483.3 603.7,484.2 606.8,484.8 609.3,486.5 611.9,488 613.8,489.4 615.7,491 618.1,492.2 620,494.2 617.6,495.5 615.9,497.6 614.1,499.2 611.7,500 610.3,502.1 607.7,502.9 605.8,504.8 603,505.4 601.3,506.8 599.3,507.9 597.5,509.2 593.3,508.4 591.2,507.2 588.9,506.7 586.6,506.1 584.4,506 582.2,505.2 580,505 577.7,504.8 575.5,505 573.3,505.9 570.6,507.2 568.5,509.6 565.9,510.3 563.3,510.4 561.2,509.6Z" fill="#81a290" stroke="#000" stroke-width="1.2" stroke-linejoin="round"/>
<path id="at" d="M510.8,526.7 513.1,529.5 515.4,530.5 517.5,531.9 520.6,530.9 523.3,529.2 525.6,529.1 527.7,528 530,527.1 532.3,527.4 534.4,528.5 536.7,528.2 539,528.2 541.1,527.2 543.3,526.6 546.1,525.4 549.5,525.2 548.8,522.5 548,519.9 550.1,518.5 551.5,516.5 554.4,515.4 556.9,513.5 558.1,510.9 559.2,508.3 561.2,509.6 563.3,510.4 565.9,510.3 568.5,509.6 570.6,507.2 573.3,505.9 575.5,505 577.7,504.8 580,505 582.2,505.2 584.4,506 586.6,506.1 588.9,506.7 591.2,507.2 593.3,508.4 597.5,509.2 597.5,512.5 598.5,514.6 599.4,516.6 600,519 601.7,520.8 600.4,523.2 598,524.7 595.7,526.5 593.3,528.3 594.4,530.3 595.4,532.5 593.9,535.4 592.1,538.2 591.8,540.8 591.7,543.3 589.2,543.5 586.6,543 584.1,543.8 581.6,544.7 579.5,545.6 577.2,545.6 575,546.1 572.8,546 570.5,546.2 568.3,545.7 565.4,545.3 562.6,544.5 559.7,544.2 556.7,544.2 554.2,543.5 551.6,542.9 549.3,541.7 546.7,541.7 544.1,541.3 541.6,540.2 539.6,538.7 538.4,536.5 535.8,536.6 533.3,537.1 531.1,536.9 528.8,536.8 526.7,537.7 524.4,537.7 522.2,538.5 520,538.9 517.6,537.9 515,537.5 513.4,535.4 511.9,533.3 512.8,530Z" fill="#81a290" stroke="#000" stroke-width="1.2" stroke-linejoin="round"/>
<path id="sk" d="M597.5,509.2 599.3,507.9 601.3,506.8 603,505.4 605.8,504.8 607.7,502.9 610.3,502.1 611.7,500 614.1,499.2 615.9,497.6 617.6,495.5 620,494.2 622.4,494.6 624.6,495.6 626.9,496.3 628.7,498.4 630.9,499.8 633.7,499.6 636.7,499.7 639,499.4 641.1,500.4 643.3,501.1 645.5,499.8 647.7,498.9 650,498.5 652.2,498.8 654.5,498.8 656.7,499.2 658.9,499.9 660.9,501.3 663.4,501.2 667.5,502.5 666,504.2 665.5,506.5 664.2,508.3 663.2,510.9 661.7,513.3 658.8,514.2 655.8,514.2 652.9,513.3 650,512.8 647.9,513.5 645.6,513.7 643.2,514.1 641.3,515.7 638.7,515.9 636.7,517.6 634.4,517.9 632.3,518.9 629.9,518.9 627.1,519.6 624.4,520.4 622.3,521.9 620.1,523.4 617.7,523.5 615.5,524 613.3,524.2 611.1,523.9 608.9,523.6 606.8,522.8 604.2,522 601.7,520.8 600,519 599.4,516.6 598.5,514.6 597.5,512.5Z" fill="#c1cfb0" stroke="#000" stroke-width="1.2" stroke-linejoin="round"/>
<path id="hu" d="M601.7,520.8 604.2,522 606.8,522.8 608.9,523.6 611.1,523.9 613.3,524.2 615.5,524 617.7,523.5 620.1,523.4 622.3,521.9 624.4,520.4 627.1,519.6 629.9,518.9 632.3,518.9 634.4,517.9 636.7,517.6 638.7,515.9 641.3,515.7 643.2,514.1 645.6,513.7 647.9,513.5 650,512.8 652.9,513.3 655.8,514.2 658.8,514.2 661.7,513.3 665,516.7 668.3,520 666.9,521.9 665,523.4 663.3,525 661.5,527 660.2,529.2 659.1,531.7 658.2,533.9 657,536.1 656,538.4 654.6,540.5 653.2,542.6 652.8,545.3 650.6,546.9 648.3,548.3 645.9,550.1 643.3,551.7 640,551.9 636.7,551.4 634.5,551.9 632.3,552.5 630,552.5 627.7,553.2 625.5,554 623.3,555 620.8,555.2 618.3,555.4 615.5,555 612.5,554.9 609.6,553.7 606.5,552.9 603.9,550.9 600.8,549.9 598.7,548.6 596.6,547.2 594.2,546.3 591.7,543.3 591.8,540.8 592.1,538.2 593.9,535.4 595.4,532.5 594.4,530.3 593.3,528.3 595.7,526.5 598,524.7 600.4,523.2Z" fill="#c1cfb0" stroke="#000" stroke-width="1.2" stroke-linejoin="round"/>
<path id="si" d="M556.7,544.2 559.7,544.2 562.6,544.5 565.4,545.3 568.3,545.7 570.5,546.2 572.8,546 575,546.1 577.2,545.6 579.5,545.6 581.6,544.7 584.1,543.8 586.6,543 589.2,543.5 591.7,543.3 594.2,546.3 592,546.9 590.1,548.4 587.4,548.8 585.2,550.4 583.4,551.7 582,553.7 579.6,554.5 578,555.9 577.9,559.9 576,561.4 573.3,562.1 570.8,561.2 568.3,561.1 565.8,561.5 563.3,561.5 559.2,562.5 556.5,560.1 556.7,557.4 557.5,555 556.4,552.6 555.6,550 557.4,546.7Z" fill="#c1cfb0" stroke="#000" stroke-width="1.2" stroke-linejoin="round"/>
<path id="hr" d="M559.2,562.5 563.3,561.5 565.8,561.5 568.3,561.1 570.8,561.2 573.3,562.1 576,561.4 577.9,559.9 578,555.9 579.6,554.5 582,553.7 583.4,551.7 585.2,550.4 587.4,548.8 590.1,548.4 592,546.9 594.2,546.3 596.6,547.2 598.7,548.6 600.8,549.9 603.9,550.9 606.5,552.9 609.6,553.7 612.5,554.9 615.5,555 618.3,555.4 620.8,555.2 623.3,555 622.5,560 624,562.4 625.1,564.9 627.1,566.8 624.2,567.1 621.6,567.3 620.1,570.5 617.7,568.4 614.9,567.9 612.8,567 610.5,567.2 608.3,567.1 605.5,566.7 602.8,565.8 600,565.4 597.2,565.9 594.5,565.6 591.7,565.5 588.8,566.4 586,567.1 583.6,570.1 584.3,572.2 584.7,574.6 585.4,576.9 587,579.1 589,580.8 590,583.3 591.3,585.8 593.3,587.8 595.3,589.8 596.7,592.2 598.6,594.3 600,596.7 601.4,598.6 603.6,599.7 604.7,601.9 606.9,603.1 608.5,605.1 610.3,607 612.2,608.6 614.9,609.6 616.7,611.7 614.4,610.4 612.1,609.2 610.1,607.4 607.6,606.1 605.6,604.1 603.5,602.3 601.2,600.4 598.8,598.8 596.5,597 594.9,595.1 593.1,593.6 591.5,591.8 589.9,590.1 588.6,587.9 586.9,585.9 585.2,584 583.4,582.2 581.9,580.1 579.6,578.6 578.5,576.5 576.9,574.6 575.6,572.6 574.9,569.8 573.5,567.4 571.8,565.7 569.9,564 568.3,567.3 566.3,568.5 564.9,570.1 561.7,573.1 559.4,569.6 558,567.7 557.7,565.3Z" fill="#c1cfb0" stroke="#000" stroke-width="1.2" stroke-linejoin="round"/>
<path id="it" d="M485.8,585.8 484,583.6 481.3,582.3 478.4,581.5 477.4,579.2 477.1,576.7 477.2,574.5 477.3,572.2 477.9,569.7 474.5,568.1 474.5,565.7 475.5,563.1 477.4,561.5 479.5,560.1 478.1,557.6 478,555 481.1,554.8 483.2,553.1 485.7,554.1 488.2,553.7 490,552.4 492.4,551.6 494.5,550.2 494.9,546.5 496.8,548 499.1,548.5 500.8,550 500.7,554.2 502.8,552.9 504.2,550.9 505.5,548.9 508,547.2 510,545.1 512,546.1 514.2,546.6 515.6,544.7 516.5,542.3 520,540.8 515,537.5 517.6,537.9 520,538.9 522.2,538.5 524.4,537.7 526.7,537.7 528.8,536.8 531.1,536.9 533.3,537.1 535.8,536.6 538.4,536.5 539.6,538.7 541.6,540.2 544.1,541.3 546.7,541.7 549.3,541.7 551.6,542.9 554.2,543.5 556.7,544.2 557.4,546.7 555.6,550 556.4,552.6 557.5,555 556.7,557.4 556.5,560.1 559.2,562.5 556.7,560 554.2,559.7 551.6,559.6 549.1,560.6 546.6,561.6 545.1,563.8 543.1,565.7 542.7,568.7 542.7,571.7 542.8,573.9 543.5,576 543.5,578.3 544.1,581.2 543.8,584.4 545.9,586 548,587 550.3,587.9 552.5,590.4 555,592.5 556.3,595.3 558.6,597.3 559.1,600.6 561.2,603.1 562.7,605.7 564.1,608.4 566.4,610.6 568.4,613.2 571.1,615 573.2,617.6 575.7,618 577.9,618.8 580,619.9 582.2,620.3 584.4,621 586.5,621.2 588.4,622.5 586.6,624.1 584.6,625.9 587.6,627.8 589.8,630.2 592,631.8 594.6,632.6 596.5,634.5 598.9,635.6 601.2,636.8 603.1,638.7 605.3,640.1 607.6,641.4 610.1,642.4 612.6,644.5 614.8,646.8 615.8,648.8 616.4,650.7 614.2,654.2 610.5,652 609.7,649.5 608.4,647.4 605.3,646.5 602.4,645.3 598.3,644.1 596.5,645.7 595.5,647.8 593.9,650.3 593.7,653.3 594.3,657.4 596,659.5 598.5,660.7 598.7,663.1 599.9,665 598.6,667.3 596.6,669.1 593.6,671.9 592.8,674.3 591.7,676.7 590.7,679.3 588.9,681.5 587,683.3 585,685.3 581.4,682.6 582.8,679.5 584.2,676.7 585.8,674.4 586.3,671.6 586.6,669.2 586.9,666.7 586.1,664.1 584.6,661.9 583.4,659.2 581.4,656.9 579.9,654.3 578.2,651.8 576.8,649.8 574.9,648.4 573.2,646.5 571.6,644.5 569.9,642.6 567.7,641.1 565.3,640 563,638.7 561,636.3 558.1,635.3 555.6,633.1 553.4,630.7 550.8,629.5 548.3,628.2 545.6,626.4 543.3,624.2 541.5,622.6 540,620.8 538.3,619.2 535.6,617.3 533,615.4 531.6,613.4 529.9,611.7 528,610.3 526.9,607.8 524.8,606.3 523.1,604.3 522.4,601.9 521.5,599.5 519.5,597.7 518.8,595.4 518.8,592.8 517.2,590.9 515.8,588.5 514.8,586 512.4,584.3 509.8,582.9 507.7,580.8 504.9,580.4 502.5,580.2 500.1,580.5 497.5,580.8 495,581.7 492.4,583.3 490.2,585.3 488,586.4 485.8,587.5ZM543.3,683.3 545.7,682.8 547.9,681.9 550,680.3 552.1,681.8 554.6,681.6 556.7,683 559.4,681.7 562.2,681.6 565,681.8 567.8,681.3 570.5,680.5 573.3,679.9 575.5,679.4 577.8,679.6 579.8,679.3 579,682.1 578.7,685.1 578,687.7 576.5,690 576.6,692.6 575.7,695 577,697.9 577.9,700.8 576.3,703 574.8,705.3 572,705.2 569.2,704.2 567.4,702.5 565,701.8 563.1,700.2 561.1,698.4 558.7,696.9 556.5,695.2 554.6,693.7 552.1,693 550.2,691.2 547.7,690 545.3,688.9 542.5,685.8ZM503.3,633.3 506.3,633.7 509.1,634.4 510.1,636.7 511.1,639.1 511.3,641.7 511,643.9 510.3,646 510.4,648.4 510.3,650.8 509.1,653.3 509.7,655.8 509.4,658.3 509,660.6 508.3,662.8 507.2,664.8 505.4,666.4 503.9,668.6 501.6,669.8 499.4,670 497.3,669.3 495.2,669 494.1,666.3 493.5,663.3 493.4,660.5 494.2,657.8 494.1,655 493.8,652.2 492.7,649.5 492.9,646.6 492,643.9 491.7,641.1 492.1,638.6 494.3,637.7 496.7,636.7Z" fill="#81a290" stroke="#000" stroke-width="1.2" stroke-linejoin="round"/>
<path id="ro" d="M643.3,551.7 645.9,550.1 648.3,548.3 650.6,546.9 652.8,545.3 653.2,542.6 654.6,540.5 656,538.4 657,536.1 658.2,533.9 659.1,531.7 660.2,529.2 661.5,527 663.3,525 665,523.4 666.9,521.9 668.3,520 673.3,519.2 675.6,519.3 677.8,520 679.9,521.2 682.3,521.3 684.5,521.7 686.8,522 689,522.3 691.1,523 693.3,523.6 696,523 698.3,521.7 700.6,521.4 702.8,520.8 704.9,519.7 707.3,519.4 709.6,518.6 711.7,517.4 714.2,517.4 716.9,516.3 718.4,519.1 721.2,520.5 722,522.7 722.8,524.9 724.2,526.7 725.9,529.5 728,531.9 730.4,534 731.4,536.8 733.4,539 733.7,541.8 734,545 734.4,548.3 733.2,550.4 732.9,552.7 732.3,555 733.3,557.5 733.7,560.2 736.2,561.8 737.6,564 741.7,565.3 744.3,564 746.7,562.2 750.5,563.7 750.9,565.9 752.1,568.3 750.9,570.4 750.3,572.9 747.4,573 745,574.2 744.2,576.5 742,578 741,580.7 740,583.3 739.2,590 736.2,589.8 733.4,589.7 731.6,588 730,585.8 727.7,585.4 725.6,584.4 723.3,584.7 721.1,584.4 718.9,584.5 716.7,585 714.5,585.6 712.3,586.2 709.9,586.5 707.7,587.8 705.6,589.1 703.5,590.5 701.2,590.7 698.9,590.3 696.7,590.7 694.4,590.9 692.2,590.5 690,589.5 687.8,590 685.5,589.9 683.3,590 681.1,589.8 678.9,589.5 676.8,588.8 674.5,588.7 672.3,588.3 669.7,588.7 667.2,585.2 666.9,582.4 665.8,580 666.7,576.7 662.7,575.3 660.2,573.5 657.5,571.7 655,570 652.5,568.3 651.4,565.9 650.5,563.5 649.1,560.5 646.8,558.2 645.7,556.3 644,554.7 643.5,552.1 639.2,551.7Z" fill="#c1cfb0" stroke="#000" stroke-width="1.2" stroke-linejoin="round"/>
<path id="bg" d="M665.8,580 666.9,582.4 667.2,585.2 669.7,588.7 672.3,588.3 674.5,588.7 676.8,588.8 678.9,589.5 681.1,589.8 683.3,590 685.5,589.9 687.8,590 690,589.5 692.2,590.5 694.4,590.9 696.7,590.7 698.9,590.3 701.2,590.7 703.5,590.5 705.6,589.1 707.7,587.8 709.9,586.5 712.3,586.2 714.5,585.6 716.7,585 718.9,584.5 721.1,584.4 723.3,584.7 725.6,584.4 727.7,585.4 730,585.8 731.6,588 733.4,589.7 736.2,589.8 739.2,590 738.3,594.2 736.1,595.2 734,596.4 732.3,598.1 731.1,600.1 730.6,602.2 730.1,604.4 729.6,606.5 727.7,608.1 725.9,610 727.1,612.5 728.1,615.1 729.1,617.1 730.2,619.4 727.6,618 725,617.9 722.6,618.4 719.8,617.8 717.4,619.3 714.9,620.5 712.3,621.7 710.2,623.2 713.4,624.1 714.2,628.3 710,629.2 707.8,628.7 705.6,628.4 703.4,628 701.1,627.6 698.8,627.5 696.7,626.8 694.5,626 692.2,626.3 690,625.3 687.8,626.6 685.6,626.7 683.4,627.2 681.1,626.7 678.8,626.8 676.7,627.3 673.7,627.7 670.8,628.3 670.8,621.7 670.2,619.1 668.9,616.9 667.9,614.3 665.9,612.5 665.1,609.6 664.1,606.7 666,605.1 667.3,603.1 668.5,601.1 669.5,599.2 668.9,596.6 667.5,594.2 666.3,592 665,590Z" fill="#c1cfb0" stroke="#000" stroke-width="1.2" stroke-linejoin="round"/>
<path id="mk" d="M640.8,625 641.2,622.6 642.5,620.5 643.4,618.4 645.5,617.3 647.9,617 650,615.9 652.7,615 655.4,614.3 658.3,614 660.6,614.2 662.7,615.2 664.8,615.4 667.2,617.4 669.2,620 670.5,622.1 670.4,624.6 671.8,626.7 669.8,628.2 668.4,630.2 666.2,631 664,631.9 661.6,632.1 659.5,633 657.6,634.3 655.3,634.7 653.3,635.8 651.3,637.1 648.8,637.1 646.5,638.7 644.7,636 643,633.5 642.1,630.8 640.8,628.3Z" fill="#ffffff" stroke="#000" stroke-width="1.5" stroke-linejoin="round"/>
<path id="gr" d="M639.2,650 640.4,648.5 641.9,646 643.2,643.2 645.3,641 646.8,638.4 648.7,637 651.1,636.7 653.2,635.5 655.2,634.5 657.4,633.8 659.5,633.1 661.8,632.9 664,631.9 666.2,631.1 668.4,630.1 670.3,628.6 671.7,626.7 673.7,627.7 676.7,627.3 678.8,626.8 681.1,626.7 683.4,627.2 685.6,626.7 687.8,626.6 690,625.3 692.2,626.3 694.5,626 696.7,626.8 698.8,627.5 701.1,627.6 703.4,628 705.6,628.4 707.8,628.7 710,629.2 714.2,628.3 714.2,623.3 714.4,625.8 714.9,628.3 713.8,630.7 713.8,633.6 711.9,635.6 710.2,638 707.7,637.3 705.6,636.3 703.4,635.4 701,636 699,634.8 696.7,635 694.5,635.4 692.2,635.1 690,635.7 687.5,637.4 684.9,639.1 684.7,641.5 683.6,643.5 683,645.9 685.8,647.5 687.1,649.8 684.9,649 682.5,647.7 680.9,648.9 679.3,646.3 678,643.4 677.3,640.9 676.8,638.2 674.2,639.5 672,641.2 669.9,642.4 668,644.1 668.2,647.1 668,650 668.5,652.2 668.9,654.6 670.4,656.6 671.3,658.7 671.5,661.2 672.7,663.2 673.6,665.5 675.4,667.7 672.5,668.1 670,668.2 666.7,670 669,672.3 671.6,674.4 674.3,675.2 676.5,677 679.5,677.9 681.8,679.9 682.9,682.4 684.5,684.1 682.6,687.9 680.2,685.6 678.6,682.9 675.9,681.9 673.3,680.7 670.8,680.6 668.3,680.2 665.9,678.9 663.3,678.4 660.8,677.8 658.3,677 655.8,677.9 653.3,677.9 651.4,677.2 649.3,676.5 647.6,674.8 646.3,672.5 647.7,670.5 648.3,668.3 645,666.7 643.4,665 641.3,663.6 641.2,660.7 640,658.3 637.5,655ZM650,681.7 652.2,680.8 654.5,680.7 656.7,680.4 658.9,679.9 661.1,680.9 663.2,681.3 665.6,681.5 667.9,682.2 670.2,683 671.8,685.3 674.6,686.4 675.7,689.1 676.4,691.6 673.3,693.2 670,691.9 670.7,693.9 670.9,696.2 671.2,698.4 672.2,700.5 673.3,702.6 673.8,705 672.7,707.5 672.5,710.5 671.1,707.4 669.3,705 668,702.2 665.8,699.8 665.6,702.8 664.8,705.5 665.1,708.8 663.4,705.8 661.6,703.7 658.3,705 656.4,702.7 654.9,700.1 654.6,697.7 653.5,695.6 653,693.5 651.6,690.8 650,688.3ZM677.5,725.8 680,723.2 682.6,723.9 684.9,725.4 687.2,725.6 689.5,725.4 691.8,725.4 693.9,725.9 696.1,726.6 698.2,727 700.5,727.3 702.9,727.3 705,728.4 707.9,728.6 711.3,728.9 710.1,732.5 707.8,732.7 705.6,733.5 703.3,733.5 701.1,733.5 698.8,733.4 696.7,734 694.3,733.4 691.7,733.4 689.2,732.7 687.2,731.1 685.1,729.7 682.4,729.9 680,729.2ZM675,668.3 677.4,669.7 679.9,670.9 682.8,672.5 684.7,675.4 687.2,677.4 690.2,679.2 688.4,681.2 686.5,679.5 684.2,679 682.5,677.6 680.1,675.7 677.2,674.5 676.2,672.1 674.2,670.8ZM732,710 734.9,711.9 733.1,714.5 732.4,717.4 729.8,717.7 729.3,715.5 730,713Z" fill="#c1cfb0" stroke="#000" stroke-width="1.2" stroke-linejoin="round"/>
<path id="lt" d="M649.2,386.3 651.5,385.6 653.9,385.1 656.1,384.1 658.4,383.6 661.1,382.8 663.9,382.8 666.7,382.9 669.4,383.2 672.2,383.1 675,383.6 677.8,383.7 680.6,384.1 683.3,385.2 685.5,385.3 687.7,386.1 689.9,385.5 692.1,384.5 694.2,383.3 696,385.3 698.4,386.5 700.6,387.7 702.8,388.8 704.8,390.5 707.4,390.7 709.5,392.1 711.7,393.3 714.2,394 716.7,395 717.5,400 715.5,401.7 713.4,403.4 710.9,405.1 709.2,407.6 707.2,409.3 705.3,411.1 703,412.6 701.2,414.9 702.5,417.4 703.8,419.1 702.3,420.5 700,420.7 697.5,421.1 695,420.6 692.4,421.3 690.1,422.8 687.6,423.4 685,423.1 682.5,423.7 680,423.3 677.5,425 677,420.7 675,419.1 673.3,417.5 668.3,415.8 667.6,411.7 668.9,408.4 666.3,406.8 663.3,405.9 661,405.8 659,404.3 656.7,404.1 653.9,402.6 650.8,401.6 647.6,399.9 648.1,395.8 647.5,391.7Z" fill="#c1cfb0" stroke="#000" stroke-width="1.2" stroke-linejoin="round"/>
<path id="lv" d="M646.7,383.3 647.4,380.8 647.9,378.4 648.8,376.2 650.1,374.1 650.8,371.7 652.2,368.8 653.1,365.7 655.5,364.9 657.8,364.1 659.9,362.9 662.9,362.6 665.9,361.3 667.1,364.1 668.9,366.1 671.1,368.1 673,370.3 675.2,371.5 676.7,373.3 679.2,373.7 681.6,373 684,372 686.2,370.3 686.5,367.7 687.6,365.6 688.3,363.3 689.2,357.5 693.3,357.4 695.8,357.3 698.3,356.7 700.8,358 703.4,359 705.9,360.6 708.2,362.8 710.7,363.7 713.4,363.7 715.5,363.8 717.7,363.1 720,362.9 722.6,363.3 725,364.2 728.3,368.3 729.2,370.5 729.7,372.7 729.7,375.1 732,377.3 733.1,380.1 732.8,382.9 733.1,385.7 731,388.1 728.3,390 726.2,391.2 724.2,392.5 716.7,395 714.2,394 711.7,393.3 709.5,392.1 707.4,390.7 704.8,390.5 702.8,388.8 700.6,387.7 698.4,386.5 696,385.3 694.2,383.3 692.1,384.5 689.9,385.5 687.7,386.1 685.5,385.3 683.3,385.2 680.6,384.1 677.8,383.7 675,383.6 672.2,383.1 669.4,383.2 666.7,382.9 663.9,382.8 661.1,382.8 658.4,383.6 656.1,384.1 653.9,385.1 651.5,385.6 649.2,386.3Z" fill="#c1cfb0" stroke="#000" stroke-width="1.2" stroke-linejoin="round"/>
<path id="ee" d="M688.3,352.5 685.8,351.7 683.6,350.3 679.8,348.4 679.2,345.9 679.4,343.2 676.4,340 678.6,338.5 680.8,337.4 683.5,337.2 686,336.3 688.5,335.5 691.1,334.3 693.8,333 696.7,332.6 699.5,332.5 702.2,332.1 705,331.7 707.5,331.7 710,331.5 712.5,331.8 715,331.2 717.5,331.4 720,332.1 722.5,332.8 725,332.9 727.5,332.7 729.9,333.5 732.8,333.1 733.8,336.8 731.3,338.4 728.8,339.7 727.6,342.5 726.3,345.2 725.3,347.5 725,350 726.1,352.1 725.8,354.5 726.7,356.7 728.3,360 725,364.2 722.6,363.3 720,362.9 717.7,363.1 715.5,363.8 713.4,363.7 710.7,363.7 708.2,362.8 705.9,360.6 703.4,359 700.8,358 698.3,356.7 695.8,357.3 693.3,357.4 689.2,357.5ZM658.3,352.5 660.6,350.8 663.3,349.9 665.6,349.3 667.9,348.8 670,347.5 672.4,346.7 674.7,346.8 673,349.7 670.9,351 668.4,352.1 665.7,352.2 663.5,353.7 660,355.8ZM660,341.7 662.2,341 664.4,340.1 666.7,340.2 669,340.8 671.3,342.5 668.9,344.1 666.7,345.1 664.3,344.1 661.7,344.2Z" fill="#c1cfb0" stroke="#000" stroke-width="1.2" stroke-linejoin="round"/>
<path id="se" d="M528.3,340 531.7,340.9 534.1,339.1 536.2,336.8 535.2,334.1 534,331.6 536.5,329.4 538.5,327 540.5,324.6 543.7,323.6 543.8,320.7 544.8,318.3 543.2,315.9 541.5,313.3 542,310.3 543.6,307.7 545.5,305 548.1,303.3 546.7,300 544.3,299.9 542.2,299.1 539.9,298.3 541.3,296 542,293.3 541,291.1 539.8,289 539,286.7 539,284.4 539.4,282.2 540,280 539.2,276.7 539,274.5 538.4,272.3 538.5,270 539.3,267.7 540.1,265.3 541.3,263 543.9,261.3 546.5,259.6 549.5,259.4 552.1,258.3 555,257.9 557.2,257.9 559.5,258.4 561.8,258.5 562.7,255.9 562.9,253.5 560.6,251.9 558.2,250 560.1,248.4 561.5,246.5 563,244 565.3,241.9 565.8,239.3 567.6,237.4 568.3,235 568.6,232.8 568.4,230.5 568.5,228.4 570,226.7 571.5,224.7 573.9,224.6 576,223.5 578.4,223.3 578.8,220.2 580.1,217.3 582.6,215.1 584.9,213.7 586.4,211.3 589.1,210 590.9,207.5 589.4,204.7 588.2,201.7 590.8,200.1 593.5,198.6 595.7,197.2 597.9,195.8 600,194.1 602.8,193.9 605.5,193.4 608.1,193 610.8,190 612.5,186.7 615.4,186 618.2,184.6 620.5,184.5 622.8,185.2 625,185 627.9,185.9 630.8,186.9 632.7,185.2 634.7,184 635.5,181.7 636.2,179.4 638.3,175.8 640.8,177 643.3,178.4 645.4,179.6 648,180.2 649.9,181.9 652.7,182.9 655.4,183.8 658.3,184.2 661.2,184.5 664,185.5 666.7,186.7 668.7,188.2 671,189.1 673,190.3 674.9,192.5 676.4,195.1 676.8,197.2 677.6,199.4 677.1,201.8 678.7,204.2 680.5,206.5 681.1,208.8 681.2,211.3 682,213.3 681.2,215.4 680.9,217.8 679.7,220 680.9,222 682.4,223.8 683.7,225.5 685.9,227.8 688.3,230 685.8,230.2 683.3,231 680.8,231.3 678.3,231.3 675.7,230.8 673.4,229.6 671,230.2 668.8,229.9 666.8,229.5 664.5,231.6 661.7,233.3 659.5,234.4 657.5,235.8 655.7,237.5 653.1,238.2 653.2,240.8 652.7,243.4 650.4,245 648.7,246.7 649.8,249 651.3,250.8 650.1,252.7 648.9,254.7 647.1,257.1 645,259.2 643.4,260.9 641.9,262.8 639.3,263.7 636.8,264.4 634.1,265.3 631.7,266.7 629.4,268.7 626.9,270.3 624.2,270.8 621.9,272.1 618.9,272.9 616.5,274.7 614,276.3 611.8,278.4 609.8,280.6 607.2,282.2 605.8,284.6 604.2,286.7 602.5,291.7 602.4,294.5 602,297.2 601.7,300 601,302.2 601.4,304.5 600.8,306.7 602.6,309.4 603.2,312.6 605.3,313.6 607.2,314.7 609.3,315.7 611,317.4 613.2,318.4 615.3,319.6 616.7,321.6 618.8,322.3 621,323 622.4,325.5 623.8,327.5 622.4,329.5 620.6,331.5 618.6,333.2 616.9,335.2 615.5,337.1 614.2,339.2 611.9,340.9 609,341.4 607.4,343 605.1,343.6 603.3,345 598.3,346.7 595.8,346.9 593.4,347.7 591,347.6 592.6,349.5 594,351.8 594.6,353.9 594.8,356.2 596.2,358.3 595,360.5 594.4,362.7 594.4,365 594.4,367.3 593.4,369.4 593.3,371.7 592,375.3 590,378 588.7,380.7 587.2,383.3 585.4,385.4 583.3,387.2 581.1,387.2 578.9,387.7 576.6,387.6 574.4,388.2 572.2,388.9 570.1,389.6 567.9,390.6 566.5,392.2 565.7,396.1 563.5,399.6 561.1,399.9 558.9,399.5 556.7,400.2 554,399.6 551.1,399.5 550.3,395.9 549.2,393.6 548.1,391.3 547.7,388.9 546.6,386.7 548.9,383.3 546.6,380.1 544.8,377.6 543,375.1 540.7,372.9 539.3,370 535.8,365 535.3,362.6 534.1,360.5 533.1,358.4 532.7,355.8 532.3,353.4 531.6,351.1 530.9,348.9 529.9,346.7 529.4,344.5 528.6,342.3ZM626,357.3 624.7,359.7 622.9,361.7 621.9,364.8 620,367.3 618.3,369.2 617.2,371.6 615.6,373.7 611.9,375.2 612.1,372.3 611.6,370 612.1,367.4 612.6,364.6 614.4,362.4 616.7,360.7 619.1,358.9 622,358ZM598.7,368 600.1,370 599.2,372.4 597.9,374.5 596.5,376.6 595.1,378.7 594.4,381.1 593.6,383.5 590.6,386.5 591.6,383.1 592.2,380.1 593.2,377.8 594.4,375.7 595.3,373.3Z" fill="#81a290" stroke="#000" stroke-width="1.2" stroke-linejoin="round"/>
<path id="fi" d="M638.3,175.8 640.7,175.4 643,174.6 645,173.2 647.4,172.5 650.1,172 652.8,174 655.6,175.3 658.1,177.3 660.9,179.1 663.4,180.7 665.8,182.6 668.3,182.6 670.8,181.9 673.4,182.2 675.5,181.3 677.8,181.6 680.1,181.3 682.3,181 684.4,179.9 686.7,180.4 689.3,180.5 691.7,181.8 694.2,182.7 696.1,181.3 698,180.2 699.9,179.1 701.8,177.2 702.9,174.8 704.2,172.8 704.8,170.5 705.6,168.1 707.5,166.4 710.1,165.4 711.6,163.2 714.4,162.4 717.3,162.8 720.1,162.2 722.3,161.4 724.5,160.6 726.8,160.4 729.3,160 731.6,159.6 733.8,161 736.1,162.5 738.3,164.2 740.6,165.1 742.9,166.1 745.1,167.4 747.5,170.8 743.3,175 740.9,177.2 738.4,179.3 738.3,182.2 737.1,185.1 739.9,186.8 741.7,189.2 743.9,190.6 746,192 748.2,193.5 750.3,195.3 752.5,196.9 755.5,198.1 753.9,200.7 753.3,203.3 751.3,204.7 749.9,206.6 748.1,208.1 746.3,210.1 745,212.5 747.1,214.7 748.6,217.2 750,219.1 751.9,220.6 753.6,222.2 754.5,224.4 755.4,226.5 756.8,228.3 756.5,231.6 754.7,233.5 753.3,235.8 753.3,238.8 752.4,241.7 754.5,244 755.5,246.9 756.8,249.3 758.3,251.7 755.8,251.7 757.8,253.7 760.2,255.1 762.3,256.7 760.4,258.4 758.5,260.4 756.4,262.5 758.3,264.3 760.7,265.1 762.8,266.3 764.3,268.5 766.6,269.7 768.2,271.8 770.8,273 772.9,274.8 775,276.7 773.5,279.1 772.1,281.4 770,283.3 767.7,284.9 765.9,287 764.4,289.5 762.1,290.7 760.6,292.9 758.1,294 755.9,295.9 754.2,298.5 751.4,299.7 750.2,301.7 748,302.5 746.7,304.4 745.2,306.1 743,307.6 740.3,308.2 738.2,309.8 735.9,311.1 733.8,312.6 731.8,314.4 729.1,314.6 726.7,315.7 724.5,316.6 722.2,316.5 720,316.5 717.7,317.1 715.5,317.4 713.4,318.6 711,318.4 708.8,319 706.7,319.9 704.5,320.6 702.2,320.8 699.9,321.3 697.8,322.1 695.5,322.2 693.3,322.4 691.2,323.5 688.8,323.2 686.7,324.2 684.5,324.9 682.2,325 680.1,326.3 677.7,325.9 675.5,326.1 673.4,326.2 669.9,325.2 668.6,323.1 666.9,321.4 664.3,320.3 661.7,319.1 659.3,318.2 656.9,317.1 653.1,315.2 651.6,313.4 649.5,311.8 651,309.3 652.1,306.8 652.4,304.5 652.6,302.2 653.7,300 652.7,297.8 652.6,295.5 652,293.2 651.5,291 650.9,288.8 650.1,286.7 650,284.4 649.1,282.3 649.6,280 650,277.6 649.8,275 648.7,272.9 647.6,271.1 651.6,272.2 655,271.3 658.4,272 660.9,269.8 663.3,267.5 666,265.6 668.3,263.3 670.7,261.9 672.8,260.1 675.2,258.6 677.5,256.9 679.7,255.3 681.7,253.3 688.3,248.3 689.8,246.4 690.9,244.4 693.3,243.8 695.9,243.5 697.7,241.4 700.2,240.1 699.6,237.7 698.6,235.5 695.7,234.4 693.3,232.5 688.3,230 685.9,227.8 683.7,225.5 682.4,223.8 680.9,222 679.7,220 680.9,217.8 681.2,215.4 682,213.3 681.2,211.3 681.1,208.8 680.5,206.5 678.7,204.2 677.1,201.8 677.6,199.4 676.8,197.2 676.4,195.1 674.9,192.5 673,190.3 671,189.1 668.7,188.2 666.7,186.7 664,185.5 661.2,184.5 658.3,184.2 655.4,183.8 652.7,182.9 649.9,181.9 648,180.2 645.4,179.6 643.3,178.4 640.8,177Z" fill="#81a290" stroke="#000" stroke-width="1.2" stroke-linejoin="round"/>
<path id="is" d="M96,234.7 97.6,232.6 100,231.6 101.8,230.5 103.6,231 102.6,229.9 103.6,228.5 106.3,228.3 107.7,226.2 108.4,224 110.3,222.6 111.7,220.8 112.4,219 114.7,221.7 113.2,218.6 114.9,218.9 115.6,222.6 115.9,218.9 118,218.7 120.7,218.4 122.5,220.3 124.7,221.2 125.7,221.6 125,223.3 126.6,221.9 127.3,222.7 128.7,223.2 130,224 132.4,225 134.4,226.3 134.8,227.8 135.2,229.2 134.2,230.9 131.9,232.9 134.1,234.1 136.1,234.5 136.3,237.1 136.8,239.5 140,242.7 137.8,239.3 138.1,236.6 138.9,233.7 141.4,232.7 143.4,232 144.9,234.8 144,231.2 144.4,230 144.9,228.3 145.2,226.7 145.4,225.4 146.3,228.5 146.2,224.8 147.5,224.5 149.2,224.7 150.3,226.4 150.4,228.4 151.9,229.6 154,229.9 155.8,230.3 157.6,230.4 158.1,228.8 157.5,227.2 157.3,225.5 160.3,225.7 161.5,224.1 163,226.4 162.5,223.9 164.3,223.3 166.1,223.4 165.9,226.5 167.1,223.6 168.4,224.9 169.7,226.9 170.9,228.1 169.6,231.8 171.4,228.9 172.7,230 173,231.6 173.6,232.9 173.4,230.5 172,228.5 171.5,226.3 174.6,225.5 171.7,225.3 172.7,224.7 174.2,224.2 175.2,222.6 176.1,223.6 174.9,225.6 177,224.2 177.7,225.1 179.1,225.9 180.7,226.1 183.3,225.5 184.5,223 186.7,223 188.7,223.1 190.4,222.6 192.1,223.5 193.8,220.9 193.6,217.6 196.7,218.4 199.2,218.1 201.7,219.1 201.9,220.8 203.4,221.3 205.1,222.8 207.3,222.9 209,222.3 210.1,221.1 212.3,221.1 214.3,219.7 217.1,219.4 214.1,219.4 217.1,220.4 214.9,220.8 211.5,218.6 214.1,221.4 212.6,222.7 211.4,223.8 210.9,225.1 212.9,225.9 214.3,227.4 213.8,228.8 212.8,230.2 215.6,230.1 218,230.6 220.9,231.1 223.2,232.9 226.1,233.1 227.6,235.6 228.9,237.1 226.4,239.7 229.1,238.1 229.7,240.2 228.1,241.7 226.6,243.2 225.1,244.4 224.3,243 224.3,245 223.1,245.8 219.3,243.4 222.3,246.2 220.4,247.6 217.9,248.6 216.8,250.1 215.4,251.4 213.7,253.5 211.4,255.2 208.7,253.5 206.3,254.3 204.8,255.1 203.2,255.8 200.4,256.1 197.8,257.6 195.4,259 192.6,259.7 190.1,261.2 187.2,261 185,263 182,262.9 179.3,263.6 176.4,264.2 175.1,266.1 173.4,267.5 171,267.6 168.5,267.6 166.4,268.4 164.2,269.2 161.9,269.3 160.3,268.3 160.9,266.6 159.3,268.1 157.6,267.6 155.1,268 153.1,267 150.9,266.1 148.7,265.7 147.7,265.6 149,262.4 146.8,265.1 146.3,264.8 146.5,260.7 145.5,264.2 144.3,263.9 143.4,262.3 141,262.3 138.9,261.2 136.7,260.6 134.5,260.9 132.2,260.7 130.1,261.2 127.8,260.6 125.5,260.4 123.3,261.4 120.6,261.1 119.2,261.8 118,261.9 116.9,260.5 117.4,259 119.6,259 122,259.1 124.5,258.2 126.8,257.5 127.9,255.8 128.3,253.6 130,253.7 131.5,254 133.6,253.2 136.2,252.7 133.4,252.2 131.1,252.7 128.8,251 127,250.8 125.4,249.9 123.4,248.6 122.1,246.6 119.3,246.2 116.9,244.6 114,244.6 111.3,244.5 109.5,246.3 107.3,246.9 105.2,245.7 102.4,246.2 102.7,243.3 105.5,243.9 107.8,243.6 110,243.4 111.8,243.3 113.3,244.8 112.8,243.1 114.5,242.5 116.8,242.5 118.7,241.1 121.1,241.1 123.2,240.2 125.5,240.7 127.3,240.7 128.3,242.9 128.3,240.7 129.7,239.7 129.7,238.7 133.3,237.6 129.3,237.8 129.1,236.3 127.4,236.6 126,236 123.3,235.4 121.2,233.8 119.3,235 119.7,232.3 118.3,234.8 116.8,233.5 114.5,233.4 112.2,234.1 110,233.9 107.8,234.2 105.6,234.2 103.2,234.4 100.7,234.9 98,235.1 96,234.7Z" fill="#ffffff" stroke="#000" stroke-width="1" stroke-linejoin="round"/>
<path id="cy" d="M783,732 784.6,730.1 786.2,728.3 789.1,727.4 792,725.6 795,726.6 798,726.9 801,726.1 803.9,724.8 806.1,723.5 808.7,722.8 810.6,721.9 809.2,723.7 807.9,726.1 806.1,728 804.8,730.7 802.9,732.9 800.6,733.9 798.4,735.3 796.1,736.2 793.7,738.1 790.9,739.3 788.6,738.4 786,738Z" fill="#fdfdc9" stroke="#222" stroke-width="0.7" stroke-linejoin="round"/>
<path id="gr_isl" d="M634.6,656.7 634.3,658.1 633.2,659.5 631.7,658.4 630.7,657.4 630.6,655.9 631.9,655.4 633,654.6 634.4,655.2ZM643.4,679.3 643.2,681.4 641.2,682.6 639.7,681 639.2,679.9 638.3,678.5 639.6,677.4 641.3,675.7 643.2,677.2ZM646,687.3 646.2,688.6 645,689.3 643.5,689.3 643.5,687.7 643.5,686.9 644.1,686.3 644.9,686.1 646.3,686ZM647.5,668.7 647.9,669.7 646.9,670.2 645.7,670.3 645.7,669 645.7,668.3 645.8,667.2 646.9,667.1 647.5,668ZM639.3,664.7 638.4,665 638.2,665.8 637.7,665.2 636.8,665.1 637.5,664.5 637.4,663.6 638.2,663.6 638.9,663.9ZM643.7,673.3 643.5,674 642.8,674.4 642.1,674.3 641.7,673.7 641.4,672.9 642.2,672.6 642.9,672.1 643.1,672.9ZM700.1,652.7 700,654.4 698.5,655.5 697.2,654.1 695.6,653.5 695.7,651.8 696.8,650.6 698.2,651.4 698.9,651.9ZM702.8,644 703,644.8 702.2,644.9 701.6,644.7 700.9,644.4 700.9,643.6 701.4,643 702.2,642.9 702.7,643.4ZM691.7,640 691.4,641.2 690.3,641.5 689.3,641.3 688.8,640.5 688,639.3 689.4,639 690.2,639 690.9,639.3ZM696.4,659.3 696,659.9 695.5,660.3 694.8,660.3 694.8,659.5 694.5,659 694.8,658.4 695.5,658.3 696,658.8ZM691.1,669.3 691.4,670.5 690.3,671.1 689.2,670.7 688.9,669.7 688.1,668.6 689,667.6 690.3,667.8 691.2,668.3ZM714.2,664.7 711.5,665.9 710.3,666.3 707.8,668.4 708.1,665.4 708.2,664 708.3,661.8 710.4,662.2 713.1,662.1ZM715.8,676.7 714.8,679.6 712.1,680.9 710.4,678.3 708.1,677.8 708.6,675.7 709.7,673.8 711.7,674.6 713.1,675.2ZM703.8,674.7 703.6,675.4 702.8,675.3 702,675.8 702.1,674.9 701.7,674.3 702.4,674.2 702.9,673.6 703.1,674.3ZM717.5,688.7 718,690.9 715.9,691.9 714.4,690.2 712.2,689.8 712.7,687.7 714.6,687.4 716,685.2 716.8,687.4ZM696,690 694.9,690.7 694.2,691.1 693.1,691.5 693.1,690.3 692.1,689.3 693,688.3 694.2,689.1 695.4,688.8ZM690.5,697.3 690.1,698.5 689.1,699.6 688.1,698.3 687.8,697.7 686.7,696.6 688,696.2 688.9,696 690.2,696ZM701.1,699.3 700.7,700.5 699.8,702.3 698.4,701 697.7,699.9 696.9,698.4 698.1,697.2 699.7,697.4 701.2,697.8ZM706.1,702 705.6,702.7 705,703.8 704.1,702.9 703.4,702.5 703.6,701.6 704,700.9 705,700.1 705.3,701.5ZM712.5,706.7 712,707.3 711.4,707.3 710.7,707.8 710.6,706.9 710.5,706.4 710.8,705.8 711.6,705.4 712.6,705.6ZM700.6,709.7 700.6,710.2 700.2,710.7 699.3,710.9 699.3,710 699.3,709.5 699.6,709 700.2,708.3 700.6,709.2ZM721.6,695.3 721.6,696.1 720.9,696.6 719.6,697.2 719.2,695.9 718.9,694.7 720.2,694.5 720.9,693.8 722.3,694ZM725.4,702 725,703.4 723.8,704.5 722.6,703.3 721.3,702.8 720.9,701.1 722,699.7 723.6,700.7 725,700.6ZM731.7,703.3 731.4,704.5 730.4,705.5 728.8,705.4 727.8,704.1 728.6,702.8 728.8,701.2 730.3,701.8 731.1,702.4ZM726.9,712.7 726.9,713.4 726.2,713.8 725.4,713.7 725.3,712.9 724.8,712.2 725.5,711.8 726.2,711.6 726.9,711.9ZM675.2,718.7 675.4,719.3 674.8,719.6 674.2,719.5 673.9,719 673.8,718.4 674.5,718.4 674.8,717.9 675.1,718.3ZM672.7,712.7 671.9,713.1 671.6,713.9 670.6,714 669.9,713.2 670.3,712.3 670.7,711.6 671.5,711.7 672.2,711.9ZM676.9,690 676.3,690.8 675.6,691.6 674.9,690.7 673.8,690.6 674.2,689.6 674.6,688.7 675.5,689.1 676.2,689.3ZM688,690 688,690.5 687.4,690.6 686.9,690.7 686.4,690.3 686.4,689.6 687,689.4 687.5,689.2 687.8,689.6ZM684.4,684.7 684.5,685.7 683.4,685.3 682.9,685.4 681.8,685.2 682.1,684.2 683,684 683.5,683.7 684.5,683.7ZM693.7,703.3 693.3,703.9 692.8,704.1 691.9,704.7 691.5,703.7 691.4,702.9 692.1,702.3 692.8,702.3 693.7,702.4ZM708.5,695.3 707.8,695.7 707.5,696.1 707,696 706.2,695.8 706.2,694.9 706.6,694.1 707.4,694.7 708.1,694.7ZM717.2,700.7 717.5,701.4 716.8,701.3 716.2,701.4 715.7,701 715.6,700.3 716.2,699.9 716.8,699.8 717,700.3ZM707.5,650 707.4,650.6 706.9,651.2 706.4,650.5 706,650.2 706.2,649.8 706.4,649.5 706.8,649.5 707.1,649.6ZM678.8,650 678.8,650.6 678.1,650.6 677.6,650.7 677.4,650.2 677.5,649.8 677.6,649.3 678.1,649.4 678.6,649.5ZM682.6,648 682,648.5 681.5,649 680.7,649.1 680.7,648.2 680.5,647.7 680.8,647.2 681.6,646.7 681.7,647.7ZM722.4,722.7 722,723.8 721.5,724.4 720.9,724.3 720,723.7 720.5,722 720.8,720.7 721.6,719.8 722.2,721Z" fill="#c1cfb0" stroke="#000" stroke-width="1.3" stroke-linejoin="round"/>
<path id="dal" d="M564.7,565.8 565.7,570.4 568.3,574.2 567.3,569.6ZM570,571.7 571.3,576.2 574.2,580 572.9,575.4ZM575.8,578.3 577.3,582 580.3,584.7 578.8,581ZM582,585 583.3,587.7 585.8,589.2 584.6,586.5ZM586.7,593.3 589.5,596.6 593.3,598.3 590.5,595.1ZM591.7,599.2 595,602.2 599.2,603.7 595.9,600.6ZM598.3,604.2 602.1,607.1 606.7,608.3 602.9,605.4ZM562.5,570 562.2,572.7 563.7,575 564,572.3ZM578.3,585 579.4,588 582,590 580.9,587ZM587.5,596.7 588.9,599.4 591.7,600.8 590.2,598.1Z" fill="#c1cfb0" stroke="#000" stroke-width="1" stroke-linejoin="round"/>
<path id="aland" d="M637.7,320.8 635.5,321.7 633.8,322.1 631.1,322.8 631.3,321.2 630.2,320.3 631.5,319.3 634,319 635.1,320.1ZM642.5,322.5 640.7,323.1 639.4,324.2 637.9,323.2 638.7,322.1 639.6,321.3 640.7,321.9Z" fill="#222" stroke="#000" stroke-width="0.8" stroke-linejoin="round"/>
<path id="rough" d="M331.5,406.9 333.2,406.8 335,407.3M333.2,406.8 333.9,405.8M333.5,406.4 334.3,407 335.8,408M334.3,407 334.4,408.7M333.8,404.5 334.3,406 335.1,407.8M334.3,406 333.9,407.9M334.3,402 335.5,399.9 337,397.4M335.5,399.9 337.8,399.8M333.6,400.4 334.4,399.6 335.7,398.5M332.2,397.3 333,397 333.8,396.3M333,397 333.2,396.3M332.7,396.1 333.7,396.5 334.9,396.9M333.7,396.5 334.6,395.7M332.1,393.9 335,395.6 338.2,396.7M335,395.6 337.1,394.2M333.9,392.5 334.6,393.8 335.2,394.9M334.6,391.5 335.9,392.5 337.3,393.2M331.7,391.2 332.9,389 333.8,386.6M330.3,391.2 330.7,388.9 331,386.7M330.7,388.9 330,387.4M330.8,393 327.5,392.8 323.5,393.3M327.5,392.8 325.3,394.3M328.7,396 325.4,396.2 322.2,395.7M325.4,396.2 323.2,394M326,397.1 323.5,397.1 320.7,396.5M325.3,398.4 324.3,398.8 323,398.6M324.3,398.8 323.8,399.8M323.5,401.3 325,398.5 326.8,396.1M325,398.5 327.7,399M323,398.5 324.8,400 326.2,401.3M324.8,398.1 325.4,398.3 326.1,398.7M325.4,398.3 326.4,397.6M324.4,396.3 325.8,397 327,397.9M325.8,397 325.7,398.4M324.9,394.6 327.1,394.9 328.8,394.5M327.1,394.9 328.9,396.3M325.2,391.4 326.7,391.4 327.8,391.2M325.2,390 327.5,390.2 329.4,389.9M322.8,389 322.4,386.9 321.5,385.2M322.4,386.9 324,385.1M319.7,390.4 322.1,388.8 324.6,387M322.1,388.8 321.9,387.4M320.2,389.2 319.7,387.7 319.5,385.8M319.7,387.7 320.2,387M319,389.8 316.8,387.7 314.4,386.3M316.6,392.7 314.4,390.4 312.2,387.8M316.3,393.7 313.7,395 310.5,396.6M313.9,395.1 313.9,397.1 314.2,398.7M313.4,392.4 316.2,393.7 319.2,394.7M315.9,391.5 318.1,392 321.2,391.7M318.1,392 319.6,391.1M315.2,389.1 317,388.1 318.9,386.4M317,388.1 317.1,386.9M316.4,386.3 317.1,385.7 317.6,384.9M317.1,385.7 318.1,386M313.8,385 317.2,385.6 321,387.4M313.5,384.7 316.9,383.7 319.8,382.4M316.9,383.7 319,385.4M313.9,385 314.5,381.2 314.7,377.4M312.1,383.4 313,382.4 314,381.4M314.3,378.7 314.6,381.7 314.8,385.6M315.4,380.3 316.8,381.4 318.4,382.7M317.8,378.9 319.8,380.4 321.2,381.6M319.8,380.4 321.5,380M320.5,379.6 320.9,381.6 322.2,383.8M320.9,381.6 322.5,382.7M320.7,376.8 322.1,378.9 323.8,381.5M322.1,378.9 323.8,379.6M320.1,377 323,376 326.3,375.8M323,376 323.4,374.3M323.2,375.5 324.3,378.2 325.3,380.1M321.8,370.5 324,370.5 326.4,370.5M323.3,369.2 324.9,368.5 326.2,368.2M324.9,368.5 325.9,369.1M322.7,367.6 325.5,367.2 328.7,366.2M325.5,367.2 326.8,365.8M323.7,364.5 324.9,367 326,368.9M324.9,367 324.4,369M323.4,362.1 325.5,363.6 327.1,365.5M324.2,358.5 327,360.9 330.4,363.4M325.9,358.2 327.3,360 328.5,361.4M325.3,357.8 328.3,355.7 331,354M328.3,355.7 327.7,353.2M325.8,353.8 328.9,354.7 332,355.3M326.9,351.7 329.3,354.1 331.9,356.5M327.7,351.2 330.3,350.8 332.9,350M318,350.3 318.8,350.2 319.4,349.9M316.3,351 317.2,353.3 318.4,355.1M314.7,358.1 315,358.2 315.4,358.3M315,358.2 315.3,358.9M310,357.9 310.9,360 311.5,362.4M310.9,360 312.2,360.7M308.1,358.8 307.6,360 306.9,360.8M309,355.8 307.2,357 306,358.7M307.4,355.6 305.6,354.8 303.6,353.8M306.7,354.3 305.9,353.1 304.7,351.6M305.9,353.1 305.1,352.9M309,353.5 309.2,351.3 309.8,349M310.5,351.5 310.7,350.4 311,349.1M310.7,350.4 310.1,349.8M313.3,350.4 311.6,350 309.7,349M311.6,350 310.1,350.6M314.9,349.5 315.1,349 315.3,348.4M316.4,349.2 317,347.7 318.3,346.1M317,347.7 316.3,346.8M304.1,363.2 306.1,364.3 308.1,364.9M304.5,365.4 306.3,365.9 308.1,366M306.3,365.9 306.7,367.4M303.5,367.9 304.8,369 306,370.1M302.4,373 303.4,373.5 304.4,374.1M302,373.3 300.7,374.9 299.4,376.1M300.7,374.9 299.5,375.2M302.2,373.4 300.9,372.2 299.5,370.9M301.4,371.1 300.6,371.8 299.9,372.6M313.4,363.5 313.5,361.9 313.5,360.5M313.5,361.9 311.8,360.9M316.1,365.5 315.3,364 314.4,362.5M316.6,362.9 316.3,362.2 316,361.6M316.3,362.2 315.5,362M318.5,363.5 318.6,361.6 318.3,359.3M318.6,361.6 317.3,360.9M320.1,366 321,366.2 321.7,366.2M321,366.2 321.6,365.9M322.2,368.8 322.9,368.7 323.7,368.5M321.6,369.9 322.9,371.2 324.7,372.9M322.9,371.2 322.9,372.7M321.4,369.6 320.4,371.4 319.3,373.7M317.8,371.9 317.3,372.7 316.7,373.9M317.3,372.7 316.6,372.5M317.3,369.8 315.7,371.8 314.1,373.7M315.4,369.1 314.2,370.6 313.1,372M314.2,370.6 313.3,370.4M313.5,368.7 312.5,369.7 311.2,370.7M313.6,366.4 312.2,367.8 310.9,369.7M313.2,365.1 311.1,366.8 309.7,368.7M383.5,312.4 384.3,313.7 385.4,314.7M381.5,314.9 383.4,315.2 385.4,315.3M379.2,317.5 381.5,316.2 384,314.9M381.5,316.2 382.6,316.4M380.8,318.3 381.5,319.5 381.8,320.6M381.5,319.5 380.8,320.8M377.5,321.9 378.8,322.6 380,323.4M376.4,322 378.1,324.2 379.9,326.8M378.1,324.2 377.7,325.2M377,325.6 377.4,326.4 377.9,327M377.4,326.4 377.1,327M375.4,325 376.6,327.5 377.6,330.4M374.7,325.5 374.3,325.4 373.9,325.6M374.3,325.4 374.1,325.9M373.7,320.2 372.5,321 371.4,322.1M372.5,321 371.6,320.6M371.6,319.3 370.9,318.6 370,317.3M370.9,318.6 370.9,317.1M377.6,314.9 375,314 371.6,313.1M381,311 380.9,310.3 381,309.9M380.9,310.3 380.1,309.6M382.3,310.7 382,309 381.4,307.7M382,309 382.9,307.9M363.4,336.9 363.8,338.7 363.6,340.2M363.8,338.7 362.9,339.9M361.4,337.3 363.3,337.9 364.9,338.6M360.3,340.5 361.9,340.8 363.2,341.2M359.9,342.6 360.1,343.4 360.3,344.1M357.5,341.8 359.2,342.8 361,344M359.2,342.8 360.8,342.5M355.5,341.8 355.2,343.1 355.1,344.4M355.2,343.1 354.6,343.6M353.9,343.4 354.5,343.8 355.2,344.4M354.5,343.8 355.4,343.6M353.6,341.4 351.5,342.5 349.6,343.7M353.3,340.5 351.7,340.5 350.4,340.8M355.6,338.2 353.6,338.8 351.7,339.5M353.6,338.8 352.8,338.5M355.4,338.6 353.1,337.1 350.8,335.5M353.1,337.1 352,337.6M355.5,336.7 354.9,335 354.2,333.1M358.2,336.3 356.4,335.7 354.7,335.1M359,335.2 360,333.7 360.6,332.5M360.7,335 360.8,333.4 360.8,332.1M362.5,334.4 362.7,333.8 362.5,333.1M279.5,462.2 279.5,460.5 279.5,458.6M279.5,460.5 280.8,459.6M278.2,462.1 278.6,461.2 278.5,460M278.6,461.2 279.7,460.8M276.1,462.4 275.7,461.2 275,459.7M275.7,461.2 276,459.5M274.9,463 274.9,462.4 274.7,461.6M272.1,463.3 274.5,462.4 276.5,461.6M274.5,462.4 276.1,462.9M272,464 271.9,461.4 271.8,459.2M268.4,458.4 268.5,457.6 268.7,457.1M266.2,457.6 266.9,454.9 267.8,452M266.9,454.9 265.5,453.4M268.1,450.8 269.6,454 270.4,457.3M269.6,454 271.6,454.1M272.6,452.2 273.2,452.6 273.3,453.1M273.2,452.6 274.1,452.3M271,449.6 271.7,448.6 272.1,447.6M271.7,448.6 270.8,447.1M268.2,449.3 270.4,448.9 272.2,449.2M270.4,448.9 271.3,448M271.2,446.5 270.3,448.8 269.6,451.6M270.3,448.8 271,450.3M272.9,445.4 273.8,448.3 274.8,451.2M277.3,443.9 279,444.5 280.2,445.5M279,444.5 280.1,444.3M279.6,441.1 280.4,442.2 281.1,443.1M278.2,440.1 281.3,439.4 284.2,438.4M281.5,438.1 282,439.4 282.6,440.3M281.8,436.6 283.8,436.4 286,436M283.8,436.4 285.3,437.1M280.3,438.2 281.2,436 281.8,433.9M279.4,437.9 277.7,435.6 276.4,433.8M274.8,438.1 275.1,435.2 275.3,431.7M270.8,433.5 272.6,433.1 274.5,432.8M272.8,427.8 273.8,429.4 274.9,430.7M273,425.6 275,427.2 276.7,428.5M271.6,424.9 272.5,424.3 273.7,423.7M269.2,422.7 271.6,423.1 274,423.5M271.6,423.1 272.5,422.1M270.4,421.5 271.8,421.3 273.6,421.3M271.8,421.3 273.1,420M272.1,417.3 272.2,419.1 272.4,420.8M271.4,416.9 273.4,417.7 275.6,418.5M276.7,417.2 276.3,418.6 275.9,420.1M278,417.8 276.8,418.9 275.8,419.6M282.8,416.1 282.4,417.6 282.1,418.8M283.8,416.9 285.7,417.8 287.6,419.1M285.7,417.8 286.3,419.1M284.6,415.4 285.6,416.9 286.8,418.4M287.7,414.2 286.6,417 285.6,420.1M288.4,415.3 289.5,416.5 290.5,417.7M290.9,415.8 292,416.9 292.5,417.9M292,416.9 291.6,418.1M291.3,414.7 293.4,414.8 295.5,414.9M293.4,414.8 294.7,416.2M287.1,410.7 289.4,411 291.9,411.4M290.4,407.2 291.4,408.4 292.2,409.5M291.4,408.4 291.3,409.5M297.4,400.4 297.5,403.3 297.5,405.8M297.5,403.3 296.2,404.5M329.1,487.4 328.7,488.4 328.4,489.4M326.4,486.2 325.3,484.3 324.1,482.8M329.3,481.3 329,480.6 328.6,480.1M329,480.6 329.3,480M342.6,460.7 342.5,462 342.3,463.2M342.5,462 343,462.6M340.4,460.6 341.3,461.8 342,462.9M338,460.5 338,460.9 338.1,461.5M330.8,458.1 330.4,459.2 330.1,460.2M328.8,456.6 327.8,455.2 326.4,454.2M330.1,456.6 329.8,455 329.8,453.3M329.8,455 330.5,454.3M347.2,507.4 346.8,508.6 346.2,509.8M343.1,508.4 345.6,509.6 347.9,510.9M345.6,509.6 346.5,511.3M343.5,510.4 343.6,511.7 344.3,512.7M340.5,509.4 341.7,510.3 342.9,511.2M341.7,510.3 341.7,510.8M340.1,509.9 340,510.8 339.8,511.8M336.5,515.2 337.5,515.8 338.9,516M337.5,515.8 338.5,517.2M336.4,516 336.8,515.3 337,514.5M336.8,515.3 337.6,515.2M335.1,519.2 336.4,518.4 337.7,517.7M338.3,517.9 337.7,516.5 336.5,515.7M337.7,516.5 336.5,516.3M342.2,517.3 342.4,517.2 342.7,517.1M340.3,516.6 340.5,519 340.7,521.4M337.5,523.5 338.4,521.1 339.4,518.7M339.9,522.2 340.3,521 340.7,520.2M341.4,522.8 342,522 342.7,521.3M345.1,523.5 344.5,521.9 344.1,520.4M347,523.5 347.9,522.2 348.6,521.3M348.6,526.7 348.2,524.5 348.1,522M348.2,524.5 348.7,524M349.9,526.5 349.9,525.1 350.1,523.8M349.9,525.1 349.3,524.7M351.2,528.1 351.8,525.4 352.2,522.4M351.8,525.4 353.2,524.9M444.6,457.7 445.4,458.2 446.2,458.5M443,458.5 443.1,460 443.1,462.1M443.1,460 444.4,461.4M440.1,457.4 442.7,459.2 445.5,460.7M442.7,459.2 445,458.2M440.7,459.1 442.2,460.6 444.3,461.6M442.2,460.6 444.1,460.2M438.6,458.5 440,460.1 441.4,461.6M438.4,458.7 438.9,460.9 439.9,463.7M438.1,461.8 438.3,462.8 438.5,463.5M435.7,462.4 437.3,463.7 439.4,465M437.3,463.7 439.7,463.5M435.1,464.3 435.6,465.7 435.6,466.6M435.6,465.7 436.7,466.2M434.4,467.1 435.4,464.7 436.8,462M435.5,466.4 436.8,464.6 438.1,463M436.8,464.6 436.5,463.1M436,467.5 437.9,464.8 439.6,462.1M439.6,465.7 437.8,464.5 435.5,462.8M437.8,464.5 437.9,462.8M440.6,467 440.2,464.6 439.9,462.7M441.3,464.9 441.6,463 442.2,461M441.6,463 443.3,462.4M443.2,465.2 440.9,463.7 439.2,462M496.7,372.9 497.9,373.8 498.7,374.3M497.9,373.8 499.2,373.6M498,371 498,373.4 498.4,376.3M498,373.4 497,374.4M501.7,371.2 502.6,371.8 503.4,372.2M503,370.2 503.7,372.6 504,374.6M503.7,372.6 501.6,374M505.6,367.6 506.9,370.6 508.5,373.5M506.9,370.6 508.5,370.9M508.2,368.6 509.7,370.2 511.8,371.8M510.8,366.8 513.6,366.9 516,367.6M512.1,365.7 514.6,366.2 516.8,366.7M514.3,365.1 515.1,366.5 516.4,368.3M515.1,366.5 514.2,368.9M518,362.1 517.8,364.5 517.6,366.7M520.4,365.6 519.6,365.6 518.6,365.9M519.6,365.6 518.9,366.8M523.2,365.7 521.3,367.6 519.2,369.1M521.3,367.6 521,368.9M521.6,370.6 519.8,368 517.9,365.6M521.1,371.4 518.4,370.1 516.1,368.1M519.1,371.9 517.3,372.1 515.5,372.5M517.3,372.1 517,373M520.3,374.5 518.4,373.5 516.1,372.5M519.1,374.6 517.3,375.9 515.6,377.2M517.3,375.9 515.7,375.1M514.5,398.9 514.5,397.6 514.4,396.2M514.5,397.6 515.2,397.1M521.7,400.4 521.1,398.5 520.7,396.6M521.1,398.5 521.5,397.9M522.8,398.9 523,397.4 523.5,395.3M521.2,400 523.5,401.7 525.8,403.1M521.5,402.3 521.7,405.1 521.7,408.2M520.2,406.1 521.5,406.9 522.2,407.6M518.3,405.6 518.7,406.5 519.2,407.3M517.5,406.2 518.2,407.4 519.7,408.5M514.7,405.8 514,406.6 513.3,407M514.3,403 513.8,405.4 512.9,407.8M514.2,401.6 512.8,402.8 511.3,403.9M513.7,400.1 512.5,400.9 511,401.7M512.5,400.9 512.5,401.7M530.2,392.4 529,389.3 528,386.5M529,389.3 530.1,388M531.3,392.2 531.3,389.9 530.8,387.3M531.3,389.9 532,388.9M534.2,388.4 533.8,387.3 533.4,386.1M537.9,388.7 536.6,387.5 535.2,386.7M539.4,388.2 538.7,387.1 538,386.3M538.7,387.1 537.2,386.6M541.1,389.7 541.4,387.4 541.2,385M541.4,387.4 540.6,386.8M543.3,390 542.4,387.4 542,384.8M542.4,387.4 541.5,386.9M541.5,389.7 544.3,389.7 546.6,389.6M544.3,389.7 544.8,388M544,392.4 545.1,392.8 546.4,393.3M545.1,392.8 545.7,392.2M545.2,394.3 546.3,394.5 548.1,394.3M542.3,395.9 544.2,397.6 546.3,399.6M544.2,397.6 545.4,397M542.5,397.4 543,400.6 544.1,403.5M542.6,401.9 543.6,402.6 544.3,403.4M540.3,402.7 542.1,402.5 544,402.1M539.9,402.6 539.2,404.4 538.3,406.3M530.9,400.2 531.2,402 531.7,404.2M528.4,396.5 527.3,397.2 525.9,398.2M527.3,397.2 527.2,398.2M528.1,392.9 526.7,393.4 525.3,393.3M528.5,408.3 528,406.7 527.7,405.2M528,406.7 527.5,406.6M530.2,405.8 530.5,405.4 530.6,404.9M530.5,405.4 530.4,404.7M535.3,407.4 533.8,405.6 532.7,403.5M539.8,407.2 540.3,406.9 540.6,406.4M541.1,408.7 542,408.6 543.1,408.5M538.5,409.6 540.4,410 542.1,410.5M536.8,410.4 536.4,411.3 535.8,412.2M536.4,411.3 536.8,412M534.6,408.5 535,410.7 535,412.8M531.1,411 531.7,412.3 532.7,413.4M530.2,410 528.7,411.1 527.5,412M510.1,412.2 512.1,410.5 514.3,408.4M512.1,410.5 513.2,410.8M511.7,413.2 513.1,412 514.2,410.7M513.1,412 513.8,412.1M517.5,414.4 517.2,413 517.1,411.7M517.2,413 517.8,412.1M521.1,416 520.6,414.9 519.8,413.7M520.6,414.9 519.5,414.6M524.8,418.5 526,416.8 526.8,415.4M526,416.8 526.8,416.7M551.3,414.5 550.3,412.4 549,410.3M550.3,412.4 548.6,411.4M552.7,412.3 552.8,411.5 552.9,410.7M555,413.2 555.5,410.6 556,408.1M557.5,414.9 557.8,412.5 557.9,410.3M557.9,415.9 559.2,415 560.7,414M560.2,419.5 562,419 563.9,417.8M562,419 562.4,417.8M559.2,420.2 561.4,420.7 564.1,420.9M561.4,422.7 563.9,421.1 566.3,419.5M565.5,425.2 567.7,424.7 570.7,424.6M567.7,424.7 568.5,426M496.4,411.4 496.9,411.9 497.5,412.4M494.6,412.6 496.1,412.7 497.2,413M496.1,412.7 496.5,413.8M495.9,414.5 497.6,413.8 499.5,413.1M498.4,419.2 499.2,418.6 499.6,417.9M530.9,355.4 530.3,355.9 529.6,356.7M530.3,355.9 530.5,356.7M535.5,357.9 533.9,359.3 532.5,360.7M533.9,359.3 534.1,360.4M537,362 535.3,362 533.7,361.9M535.3,362 535,361.3M539.9,367.2 537.4,366.1 534.7,365.7M538.5,368.2 537.7,369.9 537.6,371.3M540.4,369.3 538.8,370.3 537.5,371.1M538.8,370.3 538.8,371.1M540.3,371.2 538.6,372.4 537,373.3M538.6,372.4 536.7,371.3M541,372.6 539.9,372.7 538.5,372.9M542,374 541.1,373.9 539.9,373.9M541.1,373.9 540.8,372.9M545.7,375 542.9,376.6 540.6,379M544.3,377.6 542.8,377.3 541.3,377.5M546.1,377.3 545.6,379.4 545.2,381.3M545.6,379.4 544.8,379.5M548.8,379.4 546.9,379.9 545.1,380.5M546.9,379.9 546.4,379.5M616.6,319.2 616.3,322.6 615.7,325.2M618,322.6 618.1,324.5 618.8,326.8M618.8,323.1 617.3,325.1 615.7,326.7M620.8,323.3 619.7,326.4 619,328.9M622.3,323.7 621.4,326.3 620.6,329M623.9,327.3 621.8,325.8 620.2,323.8M621.8,325.8 620.2,325.7M622.7,328.7 620.6,327.6 617.7,326.2M620.6,327.6 617.5,328.3M621.6,329.9 621.2,329.3 620.5,328.5M622.5,332.9 620.5,331.7 618.7,330.5M619.4,332.9 619.6,330.5 619.1,328.5M617.1,333.9 616.2,333.9 615.7,333.8M616.2,333.9 615.1,334.9M616.8,336.1 614.5,336.7 611.8,337.7M615.6,338 614.4,337.6 612.8,337M616.1,340 613.3,338.5 610.3,337.6M612.5,339.8 612.4,338.5 612.2,337M611.6,342.8 610.7,340.5 609.7,338.2M592.2,348.7 592.7,348.2 593.5,347.7M596.1,357.2 596.8,357.5 597.1,358.1M596,358.4 597.2,358.6 597.9,358.8M595.2,362 596.3,363.4 597,364.3M593.8,363.9 595,363.1 596.4,362.1M592.1,365.1 594.5,365 596.8,364.9M602.9,295.4 603.4,295.8 603.8,296.1M599.7,297.1 601.9,296.5 604.1,296.2M601.9,296.5 602.7,297.2M601,299.1 602.1,297.9 603.6,296.8M602.1,297.9 603.1,298.1M601.7,300 602.3,299.7 602.8,299.1M602.3,299.7 602.8,299.8M601.1,301.8 601.8,301.5 602.6,301.1M601.2,305.3 601.9,306.5 602.7,307.1M604.8,313.3 605.3,312.8 605.6,312.3M605.6,314.6 606.9,313.6 608,312.7M671.6,325.9 673.7,325.1 675.3,324.5M670,324.9 669.9,322.2 669.8,318.9M668.9,324.1 669,322.1 669.7,319.6M669,322.1 667.5,321M665.9,322.6 668.8,323 672.4,323.5M664,319.6 664.7,319.2 665.3,318.5M664.7,319.2 666.1,319.2M661.6,319.4 662.7,317.3 664,314.9M662.7,317.3 664.7,316.3M660.1,317.9 660.2,316.8 660.4,315.7M660.2,316.8 661.2,316.2M656.6,316.7 656.3,315.7 656.1,315M656.3,315.7 655.1,315.2M654.7,317.8 655.4,315 656.3,311.7M652.1,315.4 655,314.4 658.6,313.6M652.1,314 653.7,312.8 655,311.5M653.7,312.8 655.8,313M649.5,312.7 651.5,312.9 653.2,313M651.5,312.9 652.2,312.2M650,309.6 651.8,310.7 653.9,312.4M651.8,310.7 654,310.2M650.2,307.8 652.7,309.2 655.6,311M648.7,283.4 647.8,283.4 646.9,283.4M649.7,278.7 648.9,277.3 648.2,275.8M648.9,277.3 649.9,275.9M652.5,275.3 650.1,274.9 647.8,274.8M650.1,274.9 649.4,275.7M647.8,271.5 647.3,270.4 646.9,269.4M649.2,270.7 648.5,269.4 647.3,268.5M648.5,269.4 646.9,269.5M691.6,323 691.3,323.6 690.9,324M684.6,323.7 685.3,325.3 686,326.7M685.3,325.3 686.6,325.6M683.4,325.1 684,325.9 684.6,326.5M682.3,324.3 681.5,325.6 680.9,326.7M680,325.8 680.3,326.3 680.7,326.8M677.3,324.9 676.4,326.5 675.6,328.4M674.9,324.8 675,326.2 675,327.7M682.8,351.6 682.1,352.5 681.5,353.5M679.3,348.4 678.6,348.4 677.8,348.4M680.7,346.7 678.9,346.4 676.9,346.3M678.9,346.4 678.1,347M679.6,345 678.8,344.8 678,344.7M679.1,340.2 677.4,342.3 675.6,344.6M677.4,342.3 676.2,342.6M678.6,339.2 677,339.9 675.3,340.7M677,339.9 676.5,339.6M638,651.3 639.1,651.8 640.1,652.4M637.8,653.1 638.9,654.4 640.2,655.3M637,654.8 638.5,655.5 640.2,656.1M638.7,659.5 640.6,658.1 642,656.3M640,661 641.3,661.6 642.6,662.4M641.3,661.6 641.5,662.2M640.6,664.9 641.7,663.1 643.1,661M641.7,663.1 642.9,662.8M642.6,666 642.7,663.3 643.2,661.2M643.9,665.4 644.2,664.6 644.2,663.7M644.2,664.6 645,664.4M644,667.1 645.5,666.6 646.8,666.1M645.5,666.6 645.7,665.4M646.7,668.5 649.1,668.1 651.3,667.8M646.7,669.6 647.9,670.9 649.4,672.3M644.9,674.2 647,672.1 649,670M669.2,689.5 670.1,691.9 670.9,694.6M670.1,694.7 671,695 672,695.5M671,695 671.5,694.6M670,698 671.2,696.7 672.4,695.4M671.2,696.7 671.3,695.9M671.7,698.3 672.3,697.9 672.9,697.4M670.5,700.7 672.1,700 673.5,699.4M672.1,700 672.3,699.4M673.7,703.4 674,703.4 674.1,703.4M674,703.4 674.3,703.1M673.6,704.6 674.5,703.9 675.4,702.8M671.1,709.5 673.1,708.2 674.9,706.7M673.1,708.2 670.9,708.2 669.1,708.4M670.2,706.7 669.7,706.7 669.1,706.8M670.5,704.9 669,705.1 667.3,705.1M664.2,699.2 666.3,700.3 668.3,701.4M663.2,707.2 665.3,706.6 667,706.1M665.3,706.6 665.9,707.2M664.1,706.5 665.1,708.5 666.4,710.8M664.5,705.7 663.9,706.7 663.2,707.6M663.9,706.7 664.2,707.3M674.7,665.8 673,668.7 670.9,671M671.6,668.2 671.1,669.5 670.6,671.1M668,667.8 668.4,670.6 669.3,673.4M668.4,670.6 670.5,671.4M667.8,671.1 669.2,670.5 671,670.4M669.2,670.5 670.2,671.6M670,671.8 671.5,671.1 673.1,670.6M669.2,674.4 670.9,672.6 672.5,670.9M672.1,674.1 672.7,674 673.3,673.9M672.7,674 673.1,674.4M674.1,676.9 673.3,674.8 672.4,672.4M677,676.1 677.6,675 678.3,673.5M678.6,679.9 680.6,678.5 682.4,677.2M681.5,680.4 682,679.6 682.3,678.6M682,679.6 681.7,678.8M682.6,681.4 684.7,681.4 686.9,681.6M684.7,681.4 686,680.3M684.9,641 685.7,641.3 686.7,641.8M682.6,643 684.6,642.2 686.6,641.6M684.6,642.2 685,641.1M682.4,643.5 683.7,644.2 685.3,644.8M683.7,644.2 684.7,644M684.5,647.2 685.4,647 686.7,646.8M686.2,650.8 685.9,648.2 685.9,645.7M685.8,649.2 685.1,649.8 684.1,650.1M685.1,649.8 684.2,649.6M686,647.2 684,648.4 682.2,649.6M684,648.4 683.9,649.7M680,648.5 681.3,649.7 682.8,650.8M681.3,649.7 681,651M680,647.8 679.2,648.4 678.5,649.2M678.8,645.9 678.2,645.6 677.3,645.6M679.1,641.9 677.7,644 676.9,646.1M677.7,644 678.2,645.7M678.6,639.7 676.4,640.2 674.3,640.7M731.9,705.9 729.5,707.9 727.4,709.4M729.5,706.2 729.3,707.8 728.8,709.2M729.3,707.8 728.1,708.6M727,703.2 725.4,702.9 723.7,702.8M726.1,699.6 725.9,702.3 726,704.7M725.9,702.3 724.9,702.8M724.8,701 724,702 723.2,702.6M724.9,696.5 722.3,698.9 719.3,701.3M721.4,694.4 720.5,692.8 719.6,690.8M720.5,692.8 719.6,692.5M720.5,691 719.8,690.9 719.2,691M721.7,689.5 719.1,689.4 716.8,690.1M722.1,687.9 720.3,689.1 719,689.9M717.2,682.7 715,681.7 713.6,681M715,681.7 715.1,680M717.7,681 715.5,681.7 713.3,681.7M720.7,679.2 718.7,677.9 716.6,676.2M718,676.8 716.7,677.6 715.3,678.7M718.1,674.5 715.7,676.4 713.5,678.5M716.2,673.8 714.6,675.5 713,677.6M713.8,674 711.5,673.8 709.6,673.7M716.3,673.8 714.7,671.7 712.4,670.1M714.7,671.7 715.3,670.2M718.3,668 717,667.9 715.6,668M717,667.9 716.5,668.5M716.7,666.9 715.5,667.5 714.7,667.9M713.1,665.7 712,667.5 710.6,669.5M712.2,663.8 711.4,664.6 710.6,665.1M711.4,664.6 711.3,665.5M715.4,660.3 713.4,660.4 711.1,660.8M713.4,660.4 712.9,662.2M715.5,658.6 714.6,657.2 713.6,656.1M718.6,658.7 716.2,657.5 714.3,656.6M715.6,657.7 715.3,658.7 715.3,659.9M712.6,650.2 710.3,651.4 708,652.6M712.3,649.9 710.6,649.1 708.8,648.1M710.6,649.1 710.5,647.8M711.7,647.9 710.4,647.4 709.1,647.1M710.4,647.4 709.2,648.7M714.1,644.9 713.2,643.9 712.4,643.2M571.3,566.3 572.9,566.4 574.2,566.4M573.8,569.8 574.6,568.3 575.2,566.8M574.6,568.3 574.2,567.3M575.5,570.4 576.5,569.8 577.4,569M575.4,572.6 576.4,572.3 577.5,571.8M576.4,572.3 577.1,572.7M577.1,573.4 577.5,572 578.2,570.8M576,576.6 578.6,575.2 580.7,573.8M580.8,578 581.8,577.5 583,577.2M581.8,577.5 582.9,578.7M582.1,579.9 582.1,578.6 582.2,577.4M582.1,578.6 581,577.8M581.9,583.4 582.9,582 584,580.5M582.6,582.8 584.8,583.2 587,583.7M584.7,584.8 585.5,583.6 585.9,582.3M587,587.6 588.6,587.8 590.3,587.8M588.6,587.8 589.3,588.5M590.3,590 591,590.1 591.8,589.9M591,590.1 591.3,590.6M589.6,592 591.5,590.9 593.3,589.9M592.5,592.2 593.3,592.3 594.3,592.5M592.9,595.9 594.5,594.5 596.1,593.2M594.5,594.5 595.7,594.7M594.5,596.8 596,595 597.4,593.4M597.4,600.3 597.9,598 598.4,595.9M597.9,598 597.6,597.3M600.8,600.1 601.5,599.4 602,598.8M601.9,603.9 603.3,602.4 604.8,601M603.3,602.4 604.3,602.6M604,604.7 604.9,602.5 606.3,600.5M608.4,607.2 608.8,605 609.4,603.3M608.8,605 608.3,603.9" fill="none" stroke="#000" stroke-width="1" stroke-linejoin="round"/>
<path id="nl_water" d="M454.3,439.3 456.1,439.4 458.2,441.6 460.1,444.3 458,444.3ZM451.3,439 452.2,436.9 454,435.6 456.9,433.1 461,432.3 460.4,433.8 458.4,435 456.4,436.1 453.7,438.7Z" fill="#ffffff" stroke="#000" stroke-width="1.2" stroke-linejoin="round"/>
<path id="zeeland" d="M442.1,461.3 441.7,463 439.7,464.1 436.8,464.4 435,463 433.6,461.3 436.8,460.6 437.3,459.2 439.8,458.3 441.5,459.8ZM445.1,464.7 444.4,466.1 442.1,466.3 440.6,465.8 440.3,465 438.7,464 440.3,463.2 442.3,462.6 443.5,463.7Z" fill="#111" stroke="#000" stroke-width="0.8" stroke-linejoin="round"/>
<g id="circles" stroke="#00008a" stroke-width="0.6">
<ellipse cx="365.8" cy="417" rx="18.8" ry="15.8" fill="#0000ff"/>
<ellipse cx="413.8" cy="541.2" rx="19.4" ry="16.3" fill="#0000ff"/>
<ellipse cx="292.7" cy="431.7" rx="5" ry="4" fill="#0000e6"/>
<ellipse cx="457.5" cy="453.3" rx="10.3" ry="8.3" fill="#0000ff"/>
<ellipse cx="519.2" cy="468.7" rx="10.3" ry="8.7" fill="#0000ff"/>
<ellipse cx="357" cy="653.3" rx="7.8" ry="6.3" fill="#0000ff"/>
<ellipse cx="544.7" cy="610" rx="9.7" ry="7.9" fill="#0000ff"/>
<ellipse cx="624.2" cy="456.2" rx="4.2" ry="3.7" fill="#0000e6"/>
<ellipse cx="572.5" cy="288.5" rx="4.5" ry="3.7" fill="#0000c8"/>
</g>
<g id="smallcircles" fill="#00008c" stroke="none">
<ellipse cx="446.7" cy="479.3" rx="3.3" ry="2.8"/>
<ellipse cx="297.5" cy="658" rx="3.5" ry="2.8"/>
<ellipse cx="707.8" cy="243.2" rx="3.7" ry="3"/>
<ellipse cx="508" cy="390.5" rx="3.7" ry="3"/>
<ellipse cx="579.5" cy="491" rx="3.3" ry="2.8"/>
<ellipse cx="553.3" cy="525.3" rx="3" ry="2.2"/>
<ellipse cx="629.2" cy="534.7" rx="2.7" ry="2.2"/>
<ellipse cx="694.7" cy="554.5" rx="2.7" ry="2.2"/>
<ellipse cx="654.2" cy="656.3" rx="2.7" ry="2.2"/>
</g>
<g id="dots" fill="#111" stroke="none">
<circle cx="631.3" cy="510" r="1.3"/>
<circle cx="573.3" cy="551.3" r="1.3"/>
<path d="M700.8,604.3l2.2,2l-2.2,2l-2.2,-2z"/>
<circle cx="704.7" cy="347.5" r="1.3"/>
<circle cx="690.5" cy="375.5" r="1.3"/>
<circle cx="682.8" cy="402.8" r="1.3"/>
<circle cx="797.4" cy="730.6" r="1.2"/>
</g>
<g id="legend" font-family="Liberation Sans, sans-serif" fill="#222">
<text x="874" y="234" font-size="11.5" font-weight="bold" textLength="158" lengthAdjust="spacingAndGlyphs" fill="#111">Transaction volume (€)</text>
<g stroke="#111" stroke-width="0.9">
<rect x="877" y="253" width="43.5" height="15.5" fill="#05364f"/>
<rect x="877" y="271.2" width="43.5" height="15.5" fill="#40726e"/>
<rect x="877" y="289.3" width="43.5" height="15.5" fill="#81a290"/>
<rect x="877" y="307.5" width="43.5" height="15.5" fill="#c1cfb0"/>
<rect x="877" y="325.7" width="43.5" height="15.5" fill="#fdfdc9"/>
</g>
<g font-size="10.2" fill="#333">
<text x="981.5" y="263.6" text-anchor="end">110.000.000</text><text x="992.5" y="263.6" text-anchor="middle">&lt;</text><text x="1084.5" y="263.6" text-anchor="end">(1)</text>
<text x="981.5" y="282.4" text-anchor="end">15.000.000</text><text x="992.5" y="282.4" text-anchor="middle">-</text><text x="1057" y="282.4" text-anchor="end">70.000.000</text><text x="1084.5" y="282.4" text-anchor="end">(3)</text>
<text x="981.5" y="300.4" text-anchor="end">1.000.000</text><text x="992.5" y="300.4" text-anchor="middle">-</text><text x="1057" y="300.4" text-anchor="end">15.000.000</text><text x="1084.5" y="300.4" text-anchor="end">(10)</text>
<text x="981.5" y="318.6" text-anchor="end">50.000</text><text x="992.5" y="318.6" text-anchor="middle">-</text><text x="1057" y="318.6" text-anchor="end">1.000.000</text><text x="1084.5" y="318.6" text-anchor="end">(12)</text>
<text x="994" y="337.5" text-anchor="middle">&lt;</text><text x="1057" y="336.6" text-anchor="end">50.000</text><text x="1084.5" y="336.6" text-anchor="end">(2)</text>
</g>
<text x="873" y="366.6" font-size="11.5" font-weight="bold" textLength="219" lengthAdjust="spacingAndGlyphs" fill="#111">Number of campaigns launched</text>
<text x="873" y="382" font-size="11.5" font-weight="bold" textLength="151" lengthAdjust="spacingAndGlyphs" fill="#111">(Jan. 2013 - Oct. 2016)</text>
<ellipse cx="887.5" cy="402.7" rx="14.5" ry="11.3" fill="#0000ff"/>
<ellipse cx="887.4" cy="426" rx="10" ry="8" fill="#0000f0"/>
<ellipse cx="887.5" cy="441" rx="4.5" ry="3.5" fill="#0000b4"/>
<g font-size="10.2" fill="#333">
<text x="944" y="404.6" text-anchor="end">10.000</text>
<text x="944" y="427.4" text-anchor="end">5.000</text>
<text x="944" y="442" text-anchor="end">1.000</text>
</g>
</g>

</svg>
<div id="ftr"></div>
<div class="fl" id="f1" style="top:820px;left:-16px;"><span style="transform:scaleX(0.952)">Crowdfunding for culture is used across Europe, however 66% of campaigns and 63% of the</span></div>
<div class="fl" id="f2" style="top:849px;left:-16px;"><span style="transform:scaleX(0.967)">total transaction volume originate in the United Kingdome &amp; France</span></div>
</body>
</html>
